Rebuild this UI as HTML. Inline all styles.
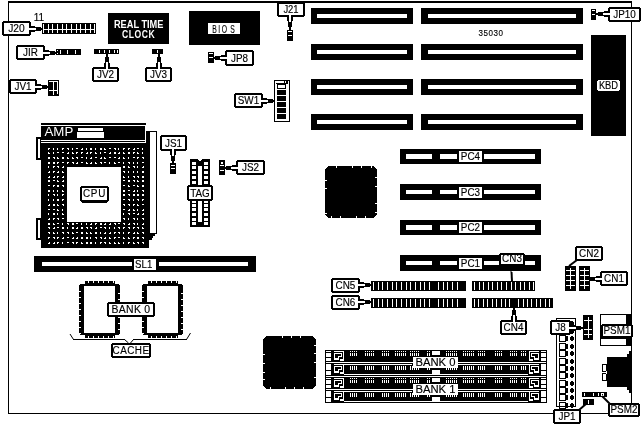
<!DOCTYPE html>
<html><head><meta charset="utf-8"><style>
html,body{margin:0;padding:0;background:#fff;}
svg{display:block;will-change:transform;}
text{font-family:"Liberation Sans",sans-serif;}
</style></head><body>
<svg width="644" height="427" viewBox="0 0 644 427" shape-rendering="crispEdges">
<rect x="8" y="1" width="624" height="2" fill="#000"/>
<rect x="8" y="1" width="1" height="413" fill="#000"/>
<rect x="631" y="1" width="1" height="413" fill="#000"/>
<rect x="8" y="413" width="624" height="1" fill="#000"/>
<rect x="311" y="8" width="102" height="16" fill="#000"/>
<rect x="317" y="14" width="90" height="4" fill="#fff"/>
<rect x="421" y="8" width="162" height="16" fill="#000"/>
<rect x="428" y="14" width="148" height="4" fill="#fff"/>
<rect x="311" y="44" width="102" height="16" fill="#000"/>
<rect x="317" y="50" width="90" height="4" fill="#fff"/>
<rect x="421" y="44" width="162" height="16" fill="#000"/>
<rect x="428" y="50" width="148" height="4" fill="#fff"/>
<rect x="311" y="79" width="102" height="16" fill="#000"/>
<rect x="317" y="85" width="90" height="4" fill="#fff"/>
<rect x="421" y="79" width="162" height="16" fill="#000"/>
<rect x="428" y="85" width="148" height="4" fill="#fff"/>
<rect x="311" y="114" width="102" height="16" fill="#000"/>
<rect x="317" y="120" width="90" height="4" fill="#fff"/>
<rect x="421" y="114" width="162" height="16" fill="#000"/>
<rect x="428" y="120" width="148" height="4" fill="#fff"/>
<text x="491" y="36" font-size="9.8" text-anchor="middle" fill="#000" font-weight="normal" letter-spacing="0.7" stroke="#000" stroke-width="0.15" transform="translate(491,36) scale(0.82,1) translate(-491,-36)">35030</text>
<rect x="108" y="13" width="61" height="31" fill="#000"/>
<text x="138.7" y="27.6" font-size="10.5" text-anchor="middle" fill="#fff" font-weight="bold" letter-spacing="0" transform="translate(138.7,27.6) scale(0.88,1) translate(-138.7,-27.6)">REAL TIME</text>
<text x="138.6" y="37.7" font-size="10.5" text-anchor="middle" fill="#fff" font-weight="bold" letter-spacing="0.6" transform="translate(138.6,37.7) scale(0.82,1) translate(-138.6,-37.7)">CLOCK</text>
<rect x="189" y="11" width="71" height="34" fill="#000"/>
<rect x="208" y="23" width="32" height="11" fill="#fff"/>
<text x="214.6" y="32.9" font-size="11" text-anchor="middle" fill="#000" font-weight="normal" letter-spacing="0" stroke="#000" stroke-width="0.15" transform="translate(214.6,32.9) scale(0.62,1) translate(-214.6,-32.9)">B</text>
<text x="219.2" y="32.9" font-size="11" text-anchor="middle" fill="#000" font-weight="normal" letter-spacing="0" stroke="#000" stroke-width="0.15" transform="translate(219.2,32.9) scale(0.62,1) translate(-219.2,-32.9)">I</text>
<text x="224.4" y="32.9" font-size="11" text-anchor="middle" fill="#000" font-weight="normal" letter-spacing="0" stroke="#000" stroke-width="0.15" transform="translate(224.4,32.9) scale(0.62,1) translate(-224.4,-32.9)">O</text>
<text x="232.5" y="32.9" font-size="11" text-anchor="middle" fill="#000" font-weight="normal" letter-spacing="0" stroke="#000" stroke-width="0.15" transform="translate(232.5,32.9) scale(0.62,1) translate(-232.5,-32.9)">S</text>
<rect x="591" y="35" width="35" height="101" fill="#000"/>
<rect x="597" y="80" width="23" height="11" fill="#fff"/>
<rect x="597" y="80" width="1" height="1" fill="#000"/>
<rect x="619" y="80" width="1" height="1" fill="#000"/>
<rect x="597" y="90" width="1" height="1" fill="#000"/>
<rect x="619" y="90" width="1" height="1" fill="#000"/>
<text x="608.5" y="89.5" font-size="11" text-anchor="middle" fill="#000" font-weight="normal" letter-spacing="0" stroke="#000" stroke-width="0.15" transform="translate(608.5,89.5) scale(0.85,1) translate(-608.5,-89.5)">KBD</text>
<rect x="42" y="23" width="54" height="11" fill="#000"/>
<rect x="43" y="29" width="52" height="1" fill="#fff"/>
<rect x="43" y="24" width="1" height="9" fill="#fff"/>
<rect x="48" y="24" width="1" height="9" fill="#fff"/>
<rect x="52" y="24" width="1" height="9" fill="#fff"/>
<rect x="57" y="24" width="1" height="9" fill="#fff"/>
<rect x="62" y="24" width="1" height="9" fill="#fff"/>
<rect x="66" y="24" width="1" height="9" fill="#fff"/>
<rect x="71" y="24" width="1" height="9" fill="#fff"/>
<rect x="76" y="24" width="1" height="9" fill="#fff"/>
<rect x="80" y="24" width="1" height="9" fill="#fff"/>
<rect x="85" y="24" width="1" height="9" fill="#fff"/>
<rect x="90" y="24" width="1" height="9" fill="#fff"/>
<rect x="94" y="24" width="1" height="9" fill="#fff"/>
<rect x="45" y="30" width="1" height="2" fill="#000"/>
<text x="39" y="21" font-size="10" text-anchor="middle" fill="#000" font-weight="normal" letter-spacing="0" stroke="#000" stroke-width="0.15">11</text>
<rect x="3" y="21" width="27" height="15" fill="#000"/>
<rect x="2" y="22" width="29" height="13" fill="#000"/>
<rect x="4" y="23" width="25" height="11" fill="#fff"/>
<text x="16.5" y="32.5" font-size="11" text-anchor="middle" fill="#000" font-weight="normal" letter-spacing="0" stroke="#000" stroke-width="0.15" transform="translate(16.5,32.5) scale(0.93,1) translate(-16.5,-32.5)">J20</text>
<rect x="29" y="26" width="6" height="6" fill="#000"/>
<rect x="29" y="27" width="12" height="4" fill="#000"/>
<rect x="35" y="28" width="8" height="2" fill="#000"/>
<rect x="29" y="28" width="7" height="2" fill="#fff"/>
<rect x="56" y="49" width="25" height="6" fill="#000"/>
<rect x="57" y="50" width="1" height="4" fill="#fff"/>
<rect x="57" y="51" width="1" height="2" fill="#000"/>
<rect x="60" y="50" width="1" height="4" fill="#fff"/>
<rect x="67" y="50" width="1" height="4" fill="#fff"/>
<rect x="75" y="50" width="1" height="4" fill="#fff"/>
<rect x="17" y="45" width="27" height="15" fill="#000"/>
<rect x="16" y="46" width="29" height="13" fill="#000"/>
<rect x="18" y="47" width="25" height="11" fill="#fff"/>
<text x="30.5" y="56.5" font-size="11" text-anchor="middle" fill="#000" font-weight="normal" letter-spacing="0" stroke="#000" stroke-width="0.15" transform="translate(30.5,56.5) scale(0.9,1) translate(-30.5,-56.5)">JIR</text>
<rect x="43" y="50" width="6" height="6" fill="#000"/>
<rect x="43" y="51" width="12" height="4" fill="#000"/>
<rect x="49" y="52" width="8" height="2" fill="#000"/>
<rect x="43" y="52" width="7" height="2" fill="#fff"/>
<rect x="94" y="49" width="25" height="5" fill="#000"/>
<rect x="99" y="50" width="1" height="3" fill="#fff"/>
<rect x="104" y="50" width="1" height="3" fill="#fff"/>
<rect x="109" y="50" width="1" height="3" fill="#fff"/>
<rect x="114" y="50" width="1" height="3" fill="#fff"/>
<rect x="117" y="50" width="1" height="3" fill="#fff"/>
<rect x="93" y="67" width="25" height="15" fill="#000"/>
<rect x="92" y="68" width="27" height="13" fill="#000"/>
<rect x="94" y="69" width="23" height="11" fill="#fff"/>
<text x="105.5" y="78.5" font-size="11" text-anchor="middle" fill="#000" font-weight="normal" letter-spacing="0" stroke="#000" stroke-width="0.15" transform="translate(105.5,78.5) scale(0.9,1) translate(-105.5,-78.5)">JV2</text>
<rect x="104" y="63" width="6" height="6" fill="#000"/>
<rect x="105" y="57" width="4" height="12" fill="#000"/>
<rect x="106" y="55" width="2" height="8" fill="#000"/>
<rect x="106" y="62" width="2" height="7" fill="#fff"/>
<rect x="106" y="54" width="2" height="1" fill="#000"/>
<rect x="152" y="49" width="11" height="5" fill="#000"/>
<rect x="157" y="50" width="1" height="3" fill="#fff"/>
<rect x="146" y="67" width="25" height="15" fill="#000"/>
<rect x="145" y="68" width="27" height="13" fill="#000"/>
<rect x="147" y="69" width="23" height="11" fill="#fff"/>
<text x="158.5" y="78.5" font-size="11" text-anchor="middle" fill="#000" font-weight="normal" letter-spacing="0" stroke="#000" stroke-width="0.15" transform="translate(158.5,78.5) scale(0.9,1) translate(-158.5,-78.5)">JV3</text>
<rect x="156" y="63" width="6" height="6" fill="#000"/>
<rect x="157" y="57" width="4" height="12" fill="#000"/>
<rect x="158" y="55" width="2" height="8" fill="#000"/>
<rect x="158" y="62" width="2" height="7" fill="#fff"/>
<rect x="158" y="54" width="2" height="1" fill="#000"/>
<rect x="48" y="80" width="11" height="16" fill="#000"/>
<rect x="49" y="81" width="9" height="1" fill="#fff"/>
<rect x="53" y="81" width="1" height="14" fill="#fff"/>
<rect x="57" y="81" width="1" height="13" fill="#fff"/>
<rect x="49" y="90" width="8" height="1" fill="#fff"/>
<rect x="10" y="79" width="26" height="15" fill="#000"/>
<rect x="9" y="80" width="28" height="13" fill="#000"/>
<rect x="11" y="81" width="24" height="11" fill="#fff"/>
<text x="23.0" y="90.5" font-size="11" text-anchor="middle" fill="#000" font-weight="normal" letter-spacing="0" stroke="#000" stroke-width="0.15" transform="translate(23.0,90.5) scale(0.9,1) translate(-23.0,-90.5)">JV1</text>
<rect x="35" y="84" width="6" height="6" fill="#000"/>
<rect x="35" y="85" width="12" height="4" fill="#000"/>
<rect x="41" y="86" width="8" height="2" fill="#000"/>
<rect x="35" y="86" width="7" height="2" fill="#fff"/>
<rect x="208" y="52" width="6" height="11" fill="#000"/>
<rect x="209" y="53" width="4" height="1" fill="#fff"/>
<rect x="209" y="57" width="4" height="1" fill="#fff"/>
<rect x="226" y="50" width="27" height="16" fill="#000"/>
<rect x="225" y="51" width="29" height="14" fill="#000"/>
<rect x="227" y="52" width="25" height="12" fill="#fff"/>
<text x="239.5" y="62.5" font-size="11" text-anchor="middle" fill="#000" font-weight="normal" letter-spacing="0" stroke="#000" stroke-width="0.15" transform="translate(239.5,62.5) scale(0.9,1) translate(-239.5,-62.5)">JP8</text>
<rect x="221" y="55" width="6" height="6" fill="#000"/>
<rect x="215" y="56" width="12" height="4" fill="#000"/>
<rect x="213" y="57" width="8" height="2" fill="#000"/>
<rect x="220" y="57" width="7" height="2" fill="#fff"/>
<rect x="287" y="30" width="6" height="11" fill="#000"/>
<rect x="288" y="31" width="4" height="1" fill="#fff"/>
<rect x="288" y="35" width="4" height="1" fill="#fff"/>
<rect x="278" y="2" width="26" height="15" fill="#000"/>
<rect x="277" y="3" width="28" height="13" fill="#000"/>
<rect x="279" y="4" width="24" height="11" fill="#fff"/>
<text x="291.0" y="12.8" font-size="10.5" text-anchor="middle" fill="#000" font-weight="normal" letter-spacing="0" stroke="#000" stroke-width="0.15" transform="translate(291.0,12.8) scale(0.9,1) translate(-291.0,-12.8)">J21</text>
<rect x="287" y="15" width="6" height="6" fill="#000"/>
<rect x="288" y="15" width="4" height="12" fill="#000"/>
<rect x="289" y="21" width="2" height="8" fill="#000"/>
<rect x="289" y="15" width="2" height="7" fill="#fff"/>
<rect x="289" y="29" width="2" height="1" fill="#000"/>
<rect x="277" y="1" width="28" height="2" fill="#000"/>
<rect x="591" y="9" width="5" height="11" fill="#000"/>
<rect x="592" y="10" width="3" height="1" fill="#fff"/>
<rect x="592" y="14" width="3" height="1" fill="#fff"/>
<rect x="609" y="7" width="31" height="15" fill="#000"/>
<rect x="608" y="8" width="33" height="13" fill="#000"/>
<rect x="610" y="9" width="29" height="11" fill="#fff"/>
<text x="624.5" y="18.5" font-size="11" text-anchor="middle" fill="#000" font-weight="normal" letter-spacing="0" stroke="#000" stroke-width="0.15" transform="translate(624.5,18.5) scale(0.9,1) translate(-624.5,-18.5)">JP10</text>
<rect x="604" y="11" width="6" height="6" fill="#000"/>
<rect x="598" y="12" width="12" height="4" fill="#000"/>
<rect x="596" y="13" width="8" height="2" fill="#000"/>
<rect x="603" y="13" width="7" height="2" fill="#fff"/>
<rect x="274" y="80" width="16" height="42" fill="#000"/>
<rect x="275" y="81" width="14" height="40" fill="#fff"/>
<rect x="276" y="83" width="12" height="1" fill="#000"/>
<rect x="277" y="84" width="9" height="5" fill="#000"/>
<rect x="278" y="85" width="7" height="3" fill="#fff"/>
<rect x="277" y="90" width="9" height="5" fill="#000"/>
<rect x="277" y="96" width="9" height="5" fill="#000"/>
<rect x="277" y="102" width="9" height="5" fill="#000"/>
<rect x="277" y="108" width="9" height="5" fill="#000"/>
<rect x="277" y="114" width="9" height="5" fill="#000"/>
<rect x="284" y="81" width="1" height="3" fill="#000"/>
<rect x="286" y="81" width="2" height="2" fill="#000"/>
<rect x="235" y="93" width="27" height="15" fill="#000"/>
<rect x="234" y="94" width="29" height="13" fill="#000"/>
<rect x="236" y="95" width="25" height="11" fill="#fff"/>
<text x="248.5" y="104.5" font-size="11" text-anchor="middle" fill="#000" font-weight="normal" letter-spacing="0" stroke="#000" stroke-width="0.15" transform="translate(248.5,104.5) scale(0.9,1) translate(-248.5,-104.5)">SW1</text>
<rect x="261" y="98" width="6" height="6" fill="#000"/>
<rect x="261" y="99" width="12" height="4" fill="#000"/>
<rect x="267" y="100" width="8" height="2" fill="#000"/>
<rect x="261" y="100" width="7" height="2" fill="#fff"/>
<rect x="41" y="123" width="105" height="2" fill="#000"/>
<rect x="41" y="126" width="104" height="14" fill="#000"/>
<text x="44.5" y="135.7" font-size="12.8" text-anchor="start" fill="#fff" font-weight="normal" letter-spacing="0" transform="translate(44.5,135.7) scale(1.04,1) translate(-44.5,-135.7)">AMP</text>
<rect x="78" y="128" width="25" height="3" fill="#fff"/>
<rect x="77" y="132" width="27" height="6" fill="#fff"/>
<rect x="41" y="141" width="104" height="1" fill="#000"/>
<rect x="41" y="143" width="108" height="105" fill="#000"/>
<rect x="48" y="148" width="1" height="1" fill="#fff"/>
<rect x="49" y="148" width="1" height="1" fill="#fff"/>
<rect x="48" y="149" width="1" height="1" fill="#fff"/>
<rect x="53" y="148" width="1" height="1" fill="#fff"/>
<rect x="53" y="149" width="1" height="1" fill="#fff"/>
<rect x="57" y="148" width="1" height="1" fill="#fff"/>
<rect x="57" y="149" width="1" height="1" fill="#fff"/>
<rect x="62" y="148" width="1" height="1" fill="#fff"/>
<rect x="63" y="148" width="1" height="1" fill="#fff"/>
<rect x="62" y="149" width="1" height="1" fill="#fff"/>
<rect x="67" y="148" width="1" height="1" fill="#fff"/>
<rect x="68" y="148" width="1" height="1" fill="#fff"/>
<rect x="68" y="149" width="1" height="1" fill="#fff"/>
<rect x="72" y="148" width="1" height="1" fill="#fff"/>
<rect x="72" y="149" width="1" height="1" fill="#fff"/>
<rect x="76" y="148" width="1" height="1" fill="#fff"/>
<rect x="77" y="148" width="1" height="1" fill="#fff"/>
<rect x="82" y="148" width="1" height="1" fill="#fff"/>
<rect x="81" y="149" width="1" height="1" fill="#fff"/>
<rect x="82" y="149" width="1" height="1" fill="#fff"/>
<rect x="86" y="148" width="1" height="1" fill="#fff"/>
<rect x="86" y="149" width="1" height="1" fill="#fff"/>
<rect x="90" y="148" width="1" height="1" fill="#fff"/>
<rect x="91" y="148" width="1" height="1" fill="#fff"/>
<rect x="90" y="149" width="1" height="1" fill="#fff"/>
<rect x="91" y="149" width="1" height="1" fill="#fff"/>
<rect x="95" y="148" width="1" height="1" fill="#fff"/>
<rect x="95" y="149" width="1" height="1" fill="#fff"/>
<rect x="100" y="148" width="1" height="1" fill="#fff"/>
<rect x="101" y="148" width="1" height="1" fill="#fff"/>
<rect x="100" y="149" width="1" height="1" fill="#fff"/>
<rect x="101" y="149" width="1" height="1" fill="#fff"/>
<rect x="104" y="149" width="1" height="1" fill="#fff"/>
<rect x="105" y="149" width="1" height="1" fill="#fff"/>
<rect x="104" y="148" width="1" height="1" fill="#fff"/>
<rect x="109" y="148" width="1" height="1" fill="#fff"/>
<rect x="110" y="148" width="1" height="1" fill="#fff"/>
<rect x="114" y="148" width="1" height="1" fill="#fff"/>
<rect x="115" y="148" width="1" height="1" fill="#fff"/>
<rect x="115" y="149" width="1" height="1" fill="#fff"/>
<rect x="118" y="148" width="1" height="1" fill="#fff"/>
<rect x="118" y="149" width="1" height="1" fill="#fff"/>
<rect x="123" y="148" width="1" height="1" fill="#fff"/>
<rect x="124" y="148" width="1" height="1" fill="#fff"/>
<rect x="123" y="149" width="1" height="1" fill="#fff"/>
<rect x="128" y="148" width="1" height="1" fill="#fff"/>
<rect x="129" y="148" width="1" height="1" fill="#fff"/>
<rect x="128" y="149" width="1" height="1" fill="#fff"/>
<rect x="134" y="148" width="1" height="1" fill="#fff"/>
<rect x="133" y="149" width="1" height="1" fill="#fff"/>
<rect x="134" y="149" width="1" height="1" fill="#fff"/>
<rect x="137" y="148" width="1" height="1" fill="#fff"/>
<rect x="138" y="148" width="1" height="1" fill="#fff"/>
<rect x="142" y="148" width="1" height="1" fill="#fff"/>
<rect x="142" y="149" width="1" height="1" fill="#fff"/>
<rect x="48" y="153" width="1" height="1" fill="#fff"/>
<rect x="49" y="153" width="1" height="1" fill="#fff"/>
<rect x="48" y="152" width="1" height="1" fill="#fff"/>
<rect x="53" y="152" width="1" height="1" fill="#fff"/>
<rect x="53" y="153" width="1" height="1" fill="#fff"/>
<rect x="57" y="152" width="1" height="1" fill="#fff"/>
<rect x="58" y="152" width="1" height="1" fill="#fff"/>
<rect x="62" y="152" width="1" height="1" fill="#fff"/>
<rect x="63" y="152" width="1" height="1" fill="#fff"/>
<rect x="68" y="152" width="1" height="1" fill="#fff"/>
<rect x="67" y="153" width="1" height="1" fill="#fff"/>
<rect x="68" y="153" width="1" height="1" fill="#fff"/>
<rect x="72" y="153" width="1" height="1" fill="#fff"/>
<rect x="73" y="153" width="1" height="1" fill="#fff"/>
<rect x="72" y="152" width="1" height="1" fill="#fff"/>
<rect x="76" y="152" width="1" height="1" fill="#fff"/>
<rect x="77" y="152" width="1" height="1" fill="#fff"/>
<rect x="76" y="153" width="1" height="1" fill="#fff"/>
<rect x="81" y="152" width="1" height="1" fill="#fff"/>
<rect x="82" y="152" width="1" height="1" fill="#fff"/>
<rect x="81" y="153" width="1" height="1" fill="#fff"/>
<rect x="87" y="152" width="1" height="1" fill="#fff"/>
<rect x="86" y="153" width="1" height="1" fill="#fff"/>
<rect x="87" y="153" width="1" height="1" fill="#fff"/>
<rect x="90" y="152" width="1" height="1" fill="#fff"/>
<rect x="91" y="152" width="1" height="1" fill="#fff"/>
<rect x="90" y="153" width="1" height="1" fill="#fff"/>
<rect x="95" y="153" width="1" height="1" fill="#fff"/>
<rect x="96" y="153" width="1" height="1" fill="#fff"/>
<rect x="95" y="152" width="1" height="1" fill="#fff"/>
<rect x="100" y="152" width="1" height="1" fill="#fff"/>
<rect x="100" y="153" width="1" height="1" fill="#fff"/>
<rect x="104" y="152" width="1" height="1" fill="#fff"/>
<rect x="105" y="152" width="1" height="1" fill="#fff"/>
<rect x="110" y="152" width="1" height="1" fill="#fff"/>
<rect x="109" y="153" width="1" height="1" fill="#fff"/>
<rect x="110" y="153" width="1" height="1" fill="#fff"/>
<rect x="114" y="152" width="1" height="1" fill="#fff"/>
<rect x="115" y="152" width="1" height="1" fill="#fff"/>
<rect x="114" y="153" width="1" height="1" fill="#fff"/>
<rect x="115" y="153" width="1" height="1" fill="#fff"/>
<rect x="119" y="152" width="1" height="1" fill="#fff"/>
<rect x="118" y="153" width="1" height="1" fill="#fff"/>
<rect x="119" y="153" width="1" height="1" fill="#fff"/>
<rect x="123" y="153" width="1" height="1" fill="#fff"/>
<rect x="124" y="153" width="1" height="1" fill="#fff"/>
<rect x="123" y="152" width="1" height="1" fill="#fff"/>
<rect x="128" y="152" width="1" height="1" fill="#fff"/>
<rect x="129" y="152" width="1" height="1" fill="#fff"/>
<rect x="128" y="153" width="1" height="1" fill="#fff"/>
<rect x="129" y="153" width="1" height="1" fill="#fff"/>
<rect x="133" y="152" width="1" height="1" fill="#fff"/>
<rect x="134" y="152" width="1" height="1" fill="#fff"/>
<rect x="133" y="153" width="1" height="1" fill="#fff"/>
<rect x="137" y="153" width="1" height="1" fill="#fff"/>
<rect x="138" y="153" width="1" height="1" fill="#fff"/>
<rect x="137" y="152" width="1" height="1" fill="#fff"/>
<rect x="142" y="152" width="1" height="1" fill="#fff"/>
<rect x="142" y="153" width="1" height="1" fill="#fff"/>
<rect x="48" y="157" width="1" height="1" fill="#fff"/>
<rect x="49" y="157" width="1" height="1" fill="#fff"/>
<rect x="48" y="158" width="1" height="1" fill="#fff"/>
<rect x="49" y="158" width="1" height="1" fill="#fff"/>
<rect x="53" y="157" width="1" height="1" fill="#fff"/>
<rect x="54" y="157" width="1" height="1" fill="#fff"/>
<rect x="54" y="158" width="1" height="1" fill="#fff"/>
<rect x="57" y="158" width="1" height="1" fill="#fff"/>
<rect x="58" y="158" width="1" height="1" fill="#fff"/>
<rect x="57" y="157" width="1" height="1" fill="#fff"/>
<rect x="62" y="157" width="1" height="1" fill="#fff"/>
<rect x="63" y="157" width="1" height="1" fill="#fff"/>
<rect x="62" y="158" width="1" height="1" fill="#fff"/>
<rect x="63" y="158" width="1" height="1" fill="#fff"/>
<rect x="67" y="158" width="1" height="1" fill="#fff"/>
<rect x="68" y="158" width="1" height="1" fill="#fff"/>
<rect x="67" y="157" width="1" height="1" fill="#fff"/>
<rect x="72" y="158" width="1" height="1" fill="#fff"/>
<rect x="73" y="158" width="1" height="1" fill="#fff"/>
<rect x="72" y="157" width="1" height="1" fill="#fff"/>
<rect x="76" y="157" width="1" height="1" fill="#fff"/>
<rect x="77" y="157" width="1" height="1" fill="#fff"/>
<rect x="77" y="158" width="1" height="1" fill="#fff"/>
<rect x="81" y="157" width="1" height="1" fill="#fff"/>
<rect x="82" y="157" width="1" height="1" fill="#fff"/>
<rect x="86" y="157" width="1" height="1" fill="#fff"/>
<rect x="86" y="158" width="1" height="1" fill="#fff"/>
<rect x="91" y="157" width="1" height="1" fill="#fff"/>
<rect x="90" y="158" width="1" height="1" fill="#fff"/>
<rect x="91" y="158" width="1" height="1" fill="#fff"/>
<rect x="95" y="157" width="1" height="1" fill="#fff"/>
<rect x="96" y="157" width="1" height="1" fill="#fff"/>
<rect x="101" y="157" width="1" height="1" fill="#fff"/>
<rect x="100" y="158" width="1" height="1" fill="#fff"/>
<rect x="101" y="158" width="1" height="1" fill="#fff"/>
<rect x="104" y="158" width="1" height="1" fill="#fff"/>
<rect x="105" y="158" width="1" height="1" fill="#fff"/>
<rect x="104" y="157" width="1" height="1" fill="#fff"/>
<rect x="109" y="157" width="1" height="1" fill="#fff"/>
<rect x="110" y="157" width="1" height="1" fill="#fff"/>
<rect x="114" y="157" width="1" height="1" fill="#fff"/>
<rect x="115" y="157" width="1" height="1" fill="#fff"/>
<rect x="119" y="157" width="1" height="1" fill="#fff"/>
<rect x="118" y="158" width="1" height="1" fill="#fff"/>
<rect x="119" y="158" width="1" height="1" fill="#fff"/>
<rect x="123" y="158" width="1" height="1" fill="#fff"/>
<rect x="124" y="158" width="1" height="1" fill="#fff"/>
<rect x="123" y="157" width="1" height="1" fill="#fff"/>
<rect x="128" y="157" width="1" height="1" fill="#fff"/>
<rect x="128" y="158" width="1" height="1" fill="#fff"/>
<rect x="133" y="157" width="1" height="1" fill="#fff"/>
<rect x="134" y="157" width="1" height="1" fill="#fff"/>
<rect x="137" y="157" width="1" height="1" fill="#fff"/>
<rect x="138" y="157" width="1" height="1" fill="#fff"/>
<rect x="137" y="158" width="1" height="1" fill="#fff"/>
<rect x="142" y="157" width="1" height="1" fill="#fff"/>
<rect x="143" y="157" width="1" height="1" fill="#fff"/>
<rect x="143" y="158" width="1" height="1" fill="#fff"/>
<rect x="48" y="162" width="1" height="1" fill="#fff"/>
<rect x="49" y="162" width="1" height="1" fill="#fff"/>
<rect x="48" y="163" width="1" height="1" fill="#fff"/>
<rect x="49" y="163" width="1" height="1" fill="#fff"/>
<rect x="53" y="162" width="1" height="1" fill="#fff"/>
<rect x="54" y="162" width="1" height="1" fill="#fff"/>
<rect x="53" y="163" width="1" height="1" fill="#fff"/>
<rect x="54" y="163" width="1" height="1" fill="#fff"/>
<rect x="57" y="162" width="1" height="1" fill="#fff"/>
<rect x="58" y="162" width="1" height="1" fill="#fff"/>
<rect x="57" y="163" width="1" height="1" fill="#fff"/>
<rect x="62" y="162" width="1" height="1" fill="#fff"/>
<rect x="63" y="162" width="1" height="1" fill="#fff"/>
<rect x="67" y="162" width="1" height="1" fill="#fff"/>
<rect x="68" y="162" width="1" height="1" fill="#fff"/>
<rect x="67" y="163" width="1" height="1" fill="#fff"/>
<rect x="72" y="162" width="1" height="1" fill="#fff"/>
<rect x="73" y="162" width="1" height="1" fill="#fff"/>
<rect x="73" y="163" width="1" height="1" fill="#fff"/>
<rect x="77" y="162" width="1" height="1" fill="#fff"/>
<rect x="76" y="163" width="1" height="1" fill="#fff"/>
<rect x="77" y="163" width="1" height="1" fill="#fff"/>
<rect x="81" y="162" width="1" height="1" fill="#fff"/>
<rect x="82" y="162" width="1" height="1" fill="#fff"/>
<rect x="86" y="163" width="1" height="1" fill="#fff"/>
<rect x="87" y="163" width="1" height="1" fill="#fff"/>
<rect x="86" y="162" width="1" height="1" fill="#fff"/>
<rect x="91" y="162" width="1" height="1" fill="#fff"/>
<rect x="90" y="163" width="1" height="1" fill="#fff"/>
<rect x="91" y="163" width="1" height="1" fill="#fff"/>
<rect x="95" y="163" width="1" height="1" fill="#fff"/>
<rect x="96" y="163" width="1" height="1" fill="#fff"/>
<rect x="95" y="162" width="1" height="1" fill="#fff"/>
<rect x="100" y="162" width="1" height="1" fill="#fff"/>
<rect x="101" y="162" width="1" height="1" fill="#fff"/>
<rect x="101" y="163" width="1" height="1" fill="#fff"/>
<rect x="104" y="162" width="1" height="1" fill="#fff"/>
<rect x="105" y="162" width="1" height="1" fill="#fff"/>
<rect x="109" y="162" width="1" height="1" fill="#fff"/>
<rect x="109" y="163" width="1" height="1" fill="#fff"/>
<rect x="114" y="163" width="1" height="1" fill="#fff"/>
<rect x="115" y="163" width="1" height="1" fill="#fff"/>
<rect x="114" y="162" width="1" height="1" fill="#fff"/>
<rect x="118" y="162" width="1" height="1" fill="#fff"/>
<rect x="119" y="162" width="1" height="1" fill="#fff"/>
<rect x="123" y="162" width="1" height="1" fill="#fff"/>
<rect x="123" y="163" width="1" height="1" fill="#fff"/>
<rect x="128" y="162" width="1" height="1" fill="#fff"/>
<rect x="129" y="162" width="1" height="1" fill="#fff"/>
<rect x="129" y="163" width="1" height="1" fill="#fff"/>
<rect x="133" y="162" width="1" height="1" fill="#fff"/>
<rect x="133" y="163" width="1" height="1" fill="#fff"/>
<rect x="137" y="162" width="1" height="1" fill="#fff"/>
<rect x="137" y="163" width="1" height="1" fill="#fff"/>
<rect x="142" y="162" width="1" height="1" fill="#fff"/>
<rect x="143" y="162" width="1" height="1" fill="#fff"/>
<rect x="48" y="166" width="1" height="1" fill="#fff"/>
<rect x="48" y="167" width="1" height="1" fill="#fff"/>
<rect x="53" y="166" width="1" height="1" fill="#fff"/>
<rect x="54" y="166" width="1" height="1" fill="#fff"/>
<rect x="53" y="167" width="1" height="1" fill="#fff"/>
<rect x="57" y="166" width="1" height="1" fill="#fff"/>
<rect x="58" y="166" width="1" height="1" fill="#fff"/>
<rect x="58" y="167" width="1" height="1" fill="#fff"/>
<rect x="63" y="166" width="1" height="1" fill="#fff"/>
<rect x="62" y="167" width="1" height="1" fill="#fff"/>
<rect x="63" y="167" width="1" height="1" fill="#fff"/>
<rect x="123" y="166" width="1" height="1" fill="#fff"/>
<rect x="124" y="166" width="1" height="1" fill="#fff"/>
<rect x="123" y="167" width="1" height="1" fill="#fff"/>
<rect x="124" y="167" width="1" height="1" fill="#fff"/>
<rect x="128" y="167" width="1" height="1" fill="#fff"/>
<rect x="129" y="167" width="1" height="1" fill="#fff"/>
<rect x="128" y="166" width="1" height="1" fill="#fff"/>
<rect x="133" y="166" width="1" height="1" fill="#fff"/>
<rect x="134" y="166" width="1" height="1" fill="#fff"/>
<rect x="134" y="167" width="1" height="1" fill="#fff"/>
<rect x="137" y="166" width="1" height="1" fill="#fff"/>
<rect x="137" y="167" width="1" height="1" fill="#fff"/>
<rect x="143" y="166" width="1" height="1" fill="#fff"/>
<rect x="142" y="167" width="1" height="1" fill="#fff"/>
<rect x="143" y="167" width="1" height="1" fill="#fff"/>
<rect x="49" y="171" width="1" height="1" fill="#fff"/>
<rect x="48" y="172" width="1" height="1" fill="#fff"/>
<rect x="49" y="172" width="1" height="1" fill="#fff"/>
<rect x="53" y="171" width="1" height="1" fill="#fff"/>
<rect x="54" y="171" width="1" height="1" fill="#fff"/>
<rect x="53" y="172" width="1" height="1" fill="#fff"/>
<rect x="58" y="171" width="1" height="1" fill="#fff"/>
<rect x="57" y="172" width="1" height="1" fill="#fff"/>
<rect x="58" y="172" width="1" height="1" fill="#fff"/>
<rect x="62" y="172" width="1" height="1" fill="#fff"/>
<rect x="63" y="172" width="1" height="1" fill="#fff"/>
<rect x="62" y="171" width="1" height="1" fill="#fff"/>
<rect x="123" y="171" width="1" height="1" fill="#fff"/>
<rect x="124" y="171" width="1" height="1" fill="#fff"/>
<rect x="124" y="172" width="1" height="1" fill="#fff"/>
<rect x="128" y="171" width="1" height="1" fill="#fff"/>
<rect x="128" y="172" width="1" height="1" fill="#fff"/>
<rect x="133" y="171" width="1" height="1" fill="#fff"/>
<rect x="133" y="172" width="1" height="1" fill="#fff"/>
<rect x="137" y="171" width="1" height="1" fill="#fff"/>
<rect x="137" y="172" width="1" height="1" fill="#fff"/>
<rect x="142" y="171" width="1" height="1" fill="#fff"/>
<rect x="143" y="171" width="1" height="1" fill="#fff"/>
<rect x="142" y="172" width="1" height="1" fill="#fff"/>
<rect x="143" y="172" width="1" height="1" fill="#fff"/>
<rect x="49" y="176" width="1" height="1" fill="#fff"/>
<rect x="48" y="177" width="1" height="1" fill="#fff"/>
<rect x="49" y="177" width="1" height="1" fill="#fff"/>
<rect x="54" y="176" width="1" height="1" fill="#fff"/>
<rect x="53" y="177" width="1" height="1" fill="#fff"/>
<rect x="54" y="177" width="1" height="1" fill="#fff"/>
<rect x="57" y="176" width="1" height="1" fill="#fff"/>
<rect x="58" y="176" width="1" height="1" fill="#fff"/>
<rect x="57" y="177" width="1" height="1" fill="#fff"/>
<rect x="63" y="176" width="1" height="1" fill="#fff"/>
<rect x="62" y="177" width="1" height="1" fill="#fff"/>
<rect x="63" y="177" width="1" height="1" fill="#fff"/>
<rect x="123" y="177" width="1" height="1" fill="#fff"/>
<rect x="124" y="177" width="1" height="1" fill="#fff"/>
<rect x="123" y="176" width="1" height="1" fill="#fff"/>
<rect x="128" y="176" width="1" height="1" fill="#fff"/>
<rect x="128" y="177" width="1" height="1" fill="#fff"/>
<rect x="133" y="176" width="1" height="1" fill="#fff"/>
<rect x="134" y="176" width="1" height="1" fill="#fff"/>
<rect x="134" y="177" width="1" height="1" fill="#fff"/>
<rect x="137" y="176" width="1" height="1" fill="#fff"/>
<rect x="138" y="176" width="1" height="1" fill="#fff"/>
<rect x="138" y="177" width="1" height="1" fill="#fff"/>
<rect x="142" y="176" width="1" height="1" fill="#fff"/>
<rect x="143" y="176" width="1" height="1" fill="#fff"/>
<rect x="142" y="177" width="1" height="1" fill="#fff"/>
<rect x="143" y="177" width="1" height="1" fill="#fff"/>
<rect x="48" y="180" width="1" height="1" fill="#fff"/>
<rect x="49" y="180" width="1" height="1" fill="#fff"/>
<rect x="48" y="181" width="1" height="1" fill="#fff"/>
<rect x="49" y="181" width="1" height="1" fill="#fff"/>
<rect x="53" y="180" width="1" height="1" fill="#fff"/>
<rect x="54" y="180" width="1" height="1" fill="#fff"/>
<rect x="57" y="181" width="1" height="1" fill="#fff"/>
<rect x="58" y="181" width="1" height="1" fill="#fff"/>
<rect x="57" y="180" width="1" height="1" fill="#fff"/>
<rect x="63" y="180" width="1" height="1" fill="#fff"/>
<rect x="62" y="181" width="1" height="1" fill="#fff"/>
<rect x="63" y="181" width="1" height="1" fill="#fff"/>
<rect x="123" y="180" width="1" height="1" fill="#fff"/>
<rect x="124" y="180" width="1" height="1" fill="#fff"/>
<rect x="128" y="180" width="1" height="1" fill="#fff"/>
<rect x="129" y="180" width="1" height="1" fill="#fff"/>
<rect x="128" y="181" width="1" height="1" fill="#fff"/>
<rect x="129" y="181" width="1" height="1" fill="#fff"/>
<rect x="133" y="180" width="1" height="1" fill="#fff"/>
<rect x="134" y="180" width="1" height="1" fill="#fff"/>
<rect x="134" y="181" width="1" height="1" fill="#fff"/>
<rect x="137" y="181" width="1" height="1" fill="#fff"/>
<rect x="138" y="181" width="1" height="1" fill="#fff"/>
<rect x="137" y="180" width="1" height="1" fill="#fff"/>
<rect x="142" y="180" width="1" height="1" fill="#fff"/>
<rect x="143" y="180" width="1" height="1" fill="#fff"/>
<rect x="142" y="181" width="1" height="1" fill="#fff"/>
<rect x="143" y="181" width="1" height="1" fill="#fff"/>
<rect x="48" y="185" width="1" height="1" fill="#fff"/>
<rect x="49" y="185" width="1" height="1" fill="#fff"/>
<rect x="53" y="185" width="1" height="1" fill="#fff"/>
<rect x="54" y="185" width="1" height="1" fill="#fff"/>
<rect x="53" y="186" width="1" height="1" fill="#fff"/>
<rect x="57" y="185" width="1" height="1" fill="#fff"/>
<rect x="58" y="185" width="1" height="1" fill="#fff"/>
<rect x="57" y="186" width="1" height="1" fill="#fff"/>
<rect x="58" y="186" width="1" height="1" fill="#fff"/>
<rect x="62" y="185" width="1" height="1" fill="#fff"/>
<rect x="63" y="185" width="1" height="1" fill="#fff"/>
<rect x="63" y="186" width="1" height="1" fill="#fff"/>
<rect x="123" y="185" width="1" height="1" fill="#fff"/>
<rect x="124" y="185" width="1" height="1" fill="#fff"/>
<rect x="128" y="186" width="1" height="1" fill="#fff"/>
<rect x="129" y="186" width="1" height="1" fill="#fff"/>
<rect x="128" y="185" width="1" height="1" fill="#fff"/>
<rect x="133" y="185" width="1" height="1" fill="#fff"/>
<rect x="134" y="185" width="1" height="1" fill="#fff"/>
<rect x="137" y="186" width="1" height="1" fill="#fff"/>
<rect x="138" y="186" width="1" height="1" fill="#fff"/>
<rect x="137" y="185" width="1" height="1" fill="#fff"/>
<rect x="142" y="185" width="1" height="1" fill="#fff"/>
<rect x="143" y="185" width="1" height="1" fill="#fff"/>
<rect x="142" y="186" width="1" height="1" fill="#fff"/>
<rect x="143" y="186" width="1" height="1" fill="#fff"/>
<rect x="48" y="190" width="1" height="1" fill="#fff"/>
<rect x="49" y="190" width="1" height="1" fill="#fff"/>
<rect x="48" y="191" width="1" height="1" fill="#fff"/>
<rect x="49" y="191" width="1" height="1" fill="#fff"/>
<rect x="53" y="190" width="1" height="1" fill="#fff"/>
<rect x="53" y="191" width="1" height="1" fill="#fff"/>
<rect x="57" y="190" width="1" height="1" fill="#fff"/>
<rect x="57" y="191" width="1" height="1" fill="#fff"/>
<rect x="62" y="191" width="1" height="1" fill="#fff"/>
<rect x="63" y="191" width="1" height="1" fill="#fff"/>
<rect x="62" y="190" width="1" height="1" fill="#fff"/>
<rect x="123" y="190" width="1" height="1" fill="#fff"/>
<rect x="124" y="190" width="1" height="1" fill="#fff"/>
<rect x="123" y="191" width="1" height="1" fill="#fff"/>
<rect x="124" y="191" width="1" height="1" fill="#fff"/>
<rect x="128" y="190" width="1" height="1" fill="#fff"/>
<rect x="129" y="190" width="1" height="1" fill="#fff"/>
<rect x="134" y="190" width="1" height="1" fill="#fff"/>
<rect x="133" y="191" width="1" height="1" fill="#fff"/>
<rect x="134" y="191" width="1" height="1" fill="#fff"/>
<rect x="137" y="190" width="1" height="1" fill="#fff"/>
<rect x="137" y="191" width="1" height="1" fill="#fff"/>
<rect x="142" y="190" width="1" height="1" fill="#fff"/>
<rect x="143" y="190" width="1" height="1" fill="#fff"/>
<rect x="143" y="191" width="1" height="1" fill="#fff"/>
<rect x="48" y="194" width="1" height="1" fill="#fff"/>
<rect x="48" y="195" width="1" height="1" fill="#fff"/>
<rect x="53" y="194" width="1" height="1" fill="#fff"/>
<rect x="54" y="194" width="1" height="1" fill="#fff"/>
<rect x="54" y="195" width="1" height="1" fill="#fff"/>
<rect x="57" y="194" width="1" height="1" fill="#fff"/>
<rect x="57" y="195" width="1" height="1" fill="#fff"/>
<rect x="62" y="194" width="1" height="1" fill="#fff"/>
<rect x="63" y="194" width="1" height="1" fill="#fff"/>
<rect x="62" y="195" width="1" height="1" fill="#fff"/>
<rect x="123" y="194" width="1" height="1" fill="#fff"/>
<rect x="124" y="194" width="1" height="1" fill="#fff"/>
<rect x="123" y="195" width="1" height="1" fill="#fff"/>
<rect x="124" y="195" width="1" height="1" fill="#fff"/>
<rect x="128" y="194" width="1" height="1" fill="#fff"/>
<rect x="129" y="194" width="1" height="1" fill="#fff"/>
<rect x="129" y="195" width="1" height="1" fill="#fff"/>
<rect x="133" y="194" width="1" height="1" fill="#fff"/>
<rect x="134" y="194" width="1" height="1" fill="#fff"/>
<rect x="133" y="195" width="1" height="1" fill="#fff"/>
<rect x="134" y="195" width="1" height="1" fill="#fff"/>
<rect x="137" y="194" width="1" height="1" fill="#fff"/>
<rect x="138" y="194" width="1" height="1" fill="#fff"/>
<rect x="137" y="195" width="1" height="1" fill="#fff"/>
<rect x="138" y="195" width="1" height="1" fill="#fff"/>
<rect x="142" y="194" width="1" height="1" fill="#fff"/>
<rect x="143" y="194" width="1" height="1" fill="#fff"/>
<rect x="142" y="195" width="1" height="1" fill="#fff"/>
<rect x="143" y="195" width="1" height="1" fill="#fff"/>
<rect x="48" y="199" width="1" height="1" fill="#fff"/>
<rect x="48" y="200" width="1" height="1" fill="#fff"/>
<rect x="53" y="199" width="1" height="1" fill="#fff"/>
<rect x="53" y="200" width="1" height="1" fill="#fff"/>
<rect x="57" y="199" width="1" height="1" fill="#fff"/>
<rect x="58" y="199" width="1" height="1" fill="#fff"/>
<rect x="57" y="200" width="1" height="1" fill="#fff"/>
<rect x="58" y="200" width="1" height="1" fill="#fff"/>
<rect x="62" y="199" width="1" height="1" fill="#fff"/>
<rect x="63" y="199" width="1" height="1" fill="#fff"/>
<rect x="62" y="200" width="1" height="1" fill="#fff"/>
<rect x="123" y="199" width="1" height="1" fill="#fff"/>
<rect x="124" y="199" width="1" height="1" fill="#fff"/>
<rect x="128" y="199" width="1" height="1" fill="#fff"/>
<rect x="129" y="199" width="1" height="1" fill="#fff"/>
<rect x="129" y="200" width="1" height="1" fill="#fff"/>
<rect x="133" y="199" width="1" height="1" fill="#fff"/>
<rect x="133" y="200" width="1" height="1" fill="#fff"/>
<rect x="137" y="199" width="1" height="1" fill="#fff"/>
<rect x="138" y="199" width="1" height="1" fill="#fff"/>
<rect x="138" y="200" width="1" height="1" fill="#fff"/>
<rect x="142" y="199" width="1" height="1" fill="#fff"/>
<rect x="143" y="199" width="1" height="1" fill="#fff"/>
<rect x="142" y="200" width="1" height="1" fill="#fff"/>
<rect x="49" y="204" width="1" height="1" fill="#fff"/>
<rect x="48" y="205" width="1" height="1" fill="#fff"/>
<rect x="49" y="205" width="1" height="1" fill="#fff"/>
<rect x="53" y="204" width="1" height="1" fill="#fff"/>
<rect x="54" y="204" width="1" height="1" fill="#fff"/>
<rect x="53" y="205" width="1" height="1" fill="#fff"/>
<rect x="54" y="205" width="1" height="1" fill="#fff"/>
<rect x="57" y="205" width="1" height="1" fill="#fff"/>
<rect x="58" y="205" width="1" height="1" fill="#fff"/>
<rect x="57" y="204" width="1" height="1" fill="#fff"/>
<rect x="62" y="204" width="1" height="1" fill="#fff"/>
<rect x="63" y="204" width="1" height="1" fill="#fff"/>
<rect x="63" y="205" width="1" height="1" fill="#fff"/>
<rect x="123" y="204" width="1" height="1" fill="#fff"/>
<rect x="124" y="204" width="1" height="1" fill="#fff"/>
<rect x="124" y="205" width="1" height="1" fill="#fff"/>
<rect x="128" y="204" width="1" height="1" fill="#fff"/>
<rect x="129" y="204" width="1" height="1" fill="#fff"/>
<rect x="129" y="205" width="1" height="1" fill="#fff"/>
<rect x="133" y="204" width="1" height="1" fill="#fff"/>
<rect x="134" y="204" width="1" height="1" fill="#fff"/>
<rect x="133" y="205" width="1" height="1" fill="#fff"/>
<rect x="137" y="205" width="1" height="1" fill="#fff"/>
<rect x="138" y="205" width="1" height="1" fill="#fff"/>
<rect x="137" y="204" width="1" height="1" fill="#fff"/>
<rect x="142" y="204" width="1" height="1" fill="#fff"/>
<rect x="143" y="204" width="1" height="1" fill="#fff"/>
<rect x="48" y="209" width="1" height="1" fill="#fff"/>
<rect x="49" y="209" width="1" height="1" fill="#fff"/>
<rect x="53" y="209" width="1" height="1" fill="#fff"/>
<rect x="54" y="209" width="1" height="1" fill="#fff"/>
<rect x="57" y="210" width="1" height="1" fill="#fff"/>
<rect x="58" y="210" width="1" height="1" fill="#fff"/>
<rect x="57" y="209" width="1" height="1" fill="#fff"/>
<rect x="62" y="209" width="1" height="1" fill="#fff"/>
<rect x="62" y="210" width="1" height="1" fill="#fff"/>
<rect x="123" y="209" width="1" height="1" fill="#fff"/>
<rect x="124" y="209" width="1" height="1" fill="#fff"/>
<rect x="129" y="209" width="1" height="1" fill="#fff"/>
<rect x="128" y="210" width="1" height="1" fill="#fff"/>
<rect x="129" y="210" width="1" height="1" fill="#fff"/>
<rect x="133" y="210" width="1" height="1" fill="#fff"/>
<rect x="134" y="210" width="1" height="1" fill="#fff"/>
<rect x="133" y="209" width="1" height="1" fill="#fff"/>
<rect x="137" y="209" width="1" height="1" fill="#fff"/>
<rect x="137" y="210" width="1" height="1" fill="#fff"/>
<rect x="143" y="209" width="1" height="1" fill="#fff"/>
<rect x="142" y="210" width="1" height="1" fill="#fff"/>
<rect x="143" y="210" width="1" height="1" fill="#fff"/>
<rect x="48" y="213" width="1" height="1" fill="#fff"/>
<rect x="48" y="214" width="1" height="1" fill="#fff"/>
<rect x="53" y="213" width="1" height="1" fill="#fff"/>
<rect x="54" y="213" width="1" height="1" fill="#fff"/>
<rect x="53" y="214" width="1" height="1" fill="#fff"/>
<rect x="54" y="214" width="1" height="1" fill="#fff"/>
<rect x="57" y="213" width="1" height="1" fill="#fff"/>
<rect x="57" y="214" width="1" height="1" fill="#fff"/>
<rect x="62" y="214" width="1" height="1" fill="#fff"/>
<rect x="63" y="214" width="1" height="1" fill="#fff"/>
<rect x="62" y="213" width="1" height="1" fill="#fff"/>
<rect x="123" y="213" width="1" height="1" fill="#fff"/>
<rect x="123" y="214" width="1" height="1" fill="#fff"/>
<rect x="128" y="213" width="1" height="1" fill="#fff"/>
<rect x="129" y="213" width="1" height="1" fill="#fff"/>
<rect x="129" y="214" width="1" height="1" fill="#fff"/>
<rect x="133" y="213" width="1" height="1" fill="#fff"/>
<rect x="134" y="213" width="1" height="1" fill="#fff"/>
<rect x="138" y="213" width="1" height="1" fill="#fff"/>
<rect x="137" y="214" width="1" height="1" fill="#fff"/>
<rect x="138" y="214" width="1" height="1" fill="#fff"/>
<rect x="143" y="213" width="1" height="1" fill="#fff"/>
<rect x="142" y="214" width="1" height="1" fill="#fff"/>
<rect x="143" y="214" width="1" height="1" fill="#fff"/>
<rect x="49" y="218" width="1" height="1" fill="#fff"/>
<rect x="48" y="219" width="1" height="1" fill="#fff"/>
<rect x="49" y="219" width="1" height="1" fill="#fff"/>
<rect x="53" y="218" width="1" height="1" fill="#fff"/>
<rect x="54" y="218" width="1" height="1" fill="#fff"/>
<rect x="53" y="219" width="1" height="1" fill="#fff"/>
<rect x="57" y="218" width="1" height="1" fill="#fff"/>
<rect x="58" y="218" width="1" height="1" fill="#fff"/>
<rect x="58" y="219" width="1" height="1" fill="#fff"/>
<rect x="62" y="218" width="1" height="1" fill="#fff"/>
<rect x="63" y="218" width="1" height="1" fill="#fff"/>
<rect x="123" y="218" width="1" height="1" fill="#fff"/>
<rect x="124" y="218" width="1" height="1" fill="#fff"/>
<rect x="124" y="219" width="1" height="1" fill="#fff"/>
<rect x="128" y="218" width="1" height="1" fill="#fff"/>
<rect x="128" y="219" width="1" height="1" fill="#fff"/>
<rect x="133" y="218" width="1" height="1" fill="#fff"/>
<rect x="134" y="218" width="1" height="1" fill="#fff"/>
<rect x="134" y="219" width="1" height="1" fill="#fff"/>
<rect x="137" y="218" width="1" height="1" fill="#fff"/>
<rect x="137" y="219" width="1" height="1" fill="#fff"/>
<rect x="142" y="218" width="1" height="1" fill="#fff"/>
<rect x="143" y="218" width="1" height="1" fill="#fff"/>
<rect x="143" y="219" width="1" height="1" fill="#fff"/>
<rect x="48" y="223" width="1" height="1" fill="#fff"/>
<rect x="49" y="223" width="1" height="1" fill="#fff"/>
<rect x="48" y="224" width="1" height="1" fill="#fff"/>
<rect x="49" y="224" width="1" height="1" fill="#fff"/>
<rect x="53" y="224" width="1" height="1" fill="#fff"/>
<rect x="54" y="224" width="1" height="1" fill="#fff"/>
<rect x="53" y="223" width="1" height="1" fill="#fff"/>
<rect x="57" y="223" width="1" height="1" fill="#fff"/>
<rect x="58" y="223" width="1" height="1" fill="#fff"/>
<rect x="62" y="223" width="1" height="1" fill="#fff"/>
<rect x="62" y="224" width="1" height="1" fill="#fff"/>
<rect x="67" y="223" width="1" height="1" fill="#fff"/>
<rect x="68" y="223" width="1" height="1" fill="#fff"/>
<rect x="68" y="224" width="1" height="1" fill="#fff"/>
<rect x="72" y="223" width="1" height="1" fill="#fff"/>
<rect x="73" y="223" width="1" height="1" fill="#fff"/>
<rect x="72" y="224" width="1" height="1" fill="#fff"/>
<rect x="73" y="224" width="1" height="1" fill="#fff"/>
<rect x="76" y="223" width="1" height="1" fill="#fff"/>
<rect x="77" y="223" width="1" height="1" fill="#fff"/>
<rect x="81" y="223" width="1" height="1" fill="#fff"/>
<rect x="81" y="224" width="1" height="1" fill="#fff"/>
<rect x="86" y="223" width="1" height="1" fill="#fff"/>
<rect x="86" y="224" width="1" height="1" fill="#fff"/>
<rect x="91" y="223" width="1" height="1" fill="#fff"/>
<rect x="90" y="224" width="1" height="1" fill="#fff"/>
<rect x="91" y="224" width="1" height="1" fill="#fff"/>
<rect x="95" y="223" width="1" height="1" fill="#fff"/>
<rect x="96" y="223" width="1" height="1" fill="#fff"/>
<rect x="95" y="224" width="1" height="1" fill="#fff"/>
<rect x="100" y="223" width="1" height="1" fill="#fff"/>
<rect x="101" y="223" width="1" height="1" fill="#fff"/>
<rect x="100" y="224" width="1" height="1" fill="#fff"/>
<rect x="101" y="224" width="1" height="1" fill="#fff"/>
<rect x="105" y="223" width="1" height="1" fill="#fff"/>
<rect x="104" y="224" width="1" height="1" fill="#fff"/>
<rect x="105" y="224" width="1" height="1" fill="#fff"/>
<rect x="110" y="223" width="1" height="1" fill="#fff"/>
<rect x="109" y="224" width="1" height="1" fill="#fff"/>
<rect x="110" y="224" width="1" height="1" fill="#fff"/>
<rect x="114" y="223" width="1" height="1" fill="#fff"/>
<rect x="115" y="223" width="1" height="1" fill="#fff"/>
<rect x="115" y="224" width="1" height="1" fill="#fff"/>
<rect x="118" y="223" width="1" height="1" fill="#fff"/>
<rect x="119" y="223" width="1" height="1" fill="#fff"/>
<rect x="123" y="223" width="1" height="1" fill="#fff"/>
<rect x="124" y="223" width="1" height="1" fill="#fff"/>
<rect x="124" y="224" width="1" height="1" fill="#fff"/>
<rect x="129" y="223" width="1" height="1" fill="#fff"/>
<rect x="128" y="224" width="1" height="1" fill="#fff"/>
<rect x="129" y="224" width="1" height="1" fill="#fff"/>
<rect x="133" y="223" width="1" height="1" fill="#fff"/>
<rect x="134" y="223" width="1" height="1" fill="#fff"/>
<rect x="134" y="224" width="1" height="1" fill="#fff"/>
<rect x="137" y="223" width="1" height="1" fill="#fff"/>
<rect x="137" y="224" width="1" height="1" fill="#fff"/>
<rect x="143" y="223" width="1" height="1" fill="#fff"/>
<rect x="142" y="224" width="1" height="1" fill="#fff"/>
<rect x="143" y="224" width="1" height="1" fill="#fff"/>
<rect x="48" y="227" width="1" height="1" fill="#fff"/>
<rect x="49" y="227" width="1" height="1" fill="#fff"/>
<rect x="49" y="228" width="1" height="1" fill="#fff"/>
<rect x="54" y="227" width="1" height="1" fill="#fff"/>
<rect x="53" y="228" width="1" height="1" fill="#fff"/>
<rect x="54" y="228" width="1" height="1" fill="#fff"/>
<rect x="57" y="227" width="1" height="1" fill="#fff"/>
<rect x="58" y="227" width="1" height="1" fill="#fff"/>
<rect x="62" y="227" width="1" height="1" fill="#fff"/>
<rect x="63" y="227" width="1" height="1" fill="#fff"/>
<rect x="62" y="228" width="1" height="1" fill="#fff"/>
<rect x="63" y="228" width="1" height="1" fill="#fff"/>
<rect x="67" y="227" width="1" height="1" fill="#fff"/>
<rect x="67" y="228" width="1" height="1" fill="#fff"/>
<rect x="72" y="227" width="1" height="1" fill="#fff"/>
<rect x="73" y="227" width="1" height="1" fill="#fff"/>
<rect x="72" y="228" width="1" height="1" fill="#fff"/>
<rect x="73" y="228" width="1" height="1" fill="#fff"/>
<rect x="77" y="227" width="1" height="1" fill="#fff"/>
<rect x="76" y="228" width="1" height="1" fill="#fff"/>
<rect x="77" y="228" width="1" height="1" fill="#fff"/>
<rect x="81" y="227" width="1" height="1" fill="#fff"/>
<rect x="82" y="227" width="1" height="1" fill="#fff"/>
<rect x="81" y="228" width="1" height="1" fill="#fff"/>
<rect x="82" y="228" width="1" height="1" fill="#fff"/>
<rect x="86" y="227" width="1" height="1" fill="#fff"/>
<rect x="87" y="227" width="1" height="1" fill="#fff"/>
<rect x="87" y="228" width="1" height="1" fill="#fff"/>
<rect x="90" y="227" width="1" height="1" fill="#fff"/>
<rect x="91" y="227" width="1" height="1" fill="#fff"/>
<rect x="91" y="228" width="1" height="1" fill="#fff"/>
<rect x="96" y="227" width="1" height="1" fill="#fff"/>
<rect x="95" y="228" width="1" height="1" fill="#fff"/>
<rect x="96" y="228" width="1" height="1" fill="#fff"/>
<rect x="100" y="227" width="1" height="1" fill="#fff"/>
<rect x="101" y="227" width="1" height="1" fill="#fff"/>
<rect x="104" y="227" width="1" height="1" fill="#fff"/>
<rect x="105" y="227" width="1" height="1" fill="#fff"/>
<rect x="105" y="228" width="1" height="1" fill="#fff"/>
<rect x="109" y="227" width="1" height="1" fill="#fff"/>
<rect x="109" y="228" width="1" height="1" fill="#fff"/>
<rect x="114" y="227" width="1" height="1" fill="#fff"/>
<rect x="114" y="228" width="1" height="1" fill="#fff"/>
<rect x="118" y="227" width="1" height="1" fill="#fff"/>
<rect x="119" y="227" width="1" height="1" fill="#fff"/>
<rect x="119" y="228" width="1" height="1" fill="#fff"/>
<rect x="123" y="227" width="1" height="1" fill="#fff"/>
<rect x="124" y="227" width="1" height="1" fill="#fff"/>
<rect x="123" y="228" width="1" height="1" fill="#fff"/>
<rect x="128" y="227" width="1" height="1" fill="#fff"/>
<rect x="129" y="227" width="1" height="1" fill="#fff"/>
<rect x="129" y="228" width="1" height="1" fill="#fff"/>
<rect x="133" y="227" width="1" height="1" fill="#fff"/>
<rect x="134" y="227" width="1" height="1" fill="#fff"/>
<rect x="133" y="228" width="1" height="1" fill="#fff"/>
<rect x="137" y="227" width="1" height="1" fill="#fff"/>
<rect x="138" y="227" width="1" height="1" fill="#fff"/>
<rect x="138" y="228" width="1" height="1" fill="#fff"/>
<rect x="142" y="228" width="1" height="1" fill="#fff"/>
<rect x="143" y="228" width="1" height="1" fill="#fff"/>
<rect x="142" y="227" width="1" height="1" fill="#fff"/>
<rect x="48" y="232" width="1" height="1" fill="#fff"/>
<rect x="49" y="232" width="1" height="1" fill="#fff"/>
<rect x="49" y="233" width="1" height="1" fill="#fff"/>
<rect x="53" y="233" width="1" height="1" fill="#fff"/>
<rect x="54" y="233" width="1" height="1" fill="#fff"/>
<rect x="53" y="232" width="1" height="1" fill="#fff"/>
<rect x="57" y="232" width="1" height="1" fill="#fff"/>
<rect x="57" y="233" width="1" height="1" fill="#fff"/>
<rect x="62" y="232" width="1" height="1" fill="#fff"/>
<rect x="63" y="232" width="1" height="1" fill="#fff"/>
<rect x="63" y="233" width="1" height="1" fill="#fff"/>
<rect x="67" y="232" width="1" height="1" fill="#fff"/>
<rect x="68" y="232" width="1" height="1" fill="#fff"/>
<rect x="68" y="233" width="1" height="1" fill="#fff"/>
<rect x="72" y="233" width="1" height="1" fill="#fff"/>
<rect x="73" y="233" width="1" height="1" fill="#fff"/>
<rect x="72" y="232" width="1" height="1" fill="#fff"/>
<rect x="76" y="232" width="1" height="1" fill="#fff"/>
<rect x="77" y="232" width="1" height="1" fill="#fff"/>
<rect x="81" y="232" width="1" height="1" fill="#fff"/>
<rect x="82" y="232" width="1" height="1" fill="#fff"/>
<rect x="81" y="233" width="1" height="1" fill="#fff"/>
<rect x="82" y="233" width="1" height="1" fill="#fff"/>
<rect x="86" y="233" width="1" height="1" fill="#fff"/>
<rect x="87" y="233" width="1" height="1" fill="#fff"/>
<rect x="86" y="232" width="1" height="1" fill="#fff"/>
<rect x="90" y="233" width="1" height="1" fill="#fff"/>
<rect x="91" y="233" width="1" height="1" fill="#fff"/>
<rect x="90" y="232" width="1" height="1" fill="#fff"/>
<rect x="95" y="232" width="1" height="1" fill="#fff"/>
<rect x="96" y="232" width="1" height="1" fill="#fff"/>
<rect x="95" y="233" width="1" height="1" fill="#fff"/>
<rect x="96" y="233" width="1" height="1" fill="#fff"/>
<rect x="100" y="232" width="1" height="1" fill="#fff"/>
<rect x="100" y="233" width="1" height="1" fill="#fff"/>
<rect x="105" y="232" width="1" height="1" fill="#fff"/>
<rect x="104" y="233" width="1" height="1" fill="#fff"/>
<rect x="105" y="233" width="1" height="1" fill="#fff"/>
<rect x="110" y="232" width="1" height="1" fill="#fff"/>
<rect x="109" y="233" width="1" height="1" fill="#fff"/>
<rect x="110" y="233" width="1" height="1" fill="#fff"/>
<rect x="114" y="232" width="1" height="1" fill="#fff"/>
<rect x="115" y="232" width="1" height="1" fill="#fff"/>
<rect x="114" y="233" width="1" height="1" fill="#fff"/>
<rect x="118" y="232" width="1" height="1" fill="#fff"/>
<rect x="119" y="232" width="1" height="1" fill="#fff"/>
<rect x="119" y="233" width="1" height="1" fill="#fff"/>
<rect x="123" y="232" width="1" height="1" fill="#fff"/>
<rect x="123" y="233" width="1" height="1" fill="#fff"/>
<rect x="128" y="232" width="1" height="1" fill="#fff"/>
<rect x="129" y="232" width="1" height="1" fill="#fff"/>
<rect x="128" y="233" width="1" height="1" fill="#fff"/>
<rect x="134" y="232" width="1" height="1" fill="#fff"/>
<rect x="133" y="233" width="1" height="1" fill="#fff"/>
<rect x="134" y="233" width="1" height="1" fill="#fff"/>
<rect x="137" y="233" width="1" height="1" fill="#fff"/>
<rect x="138" y="233" width="1" height="1" fill="#fff"/>
<rect x="137" y="232" width="1" height="1" fill="#fff"/>
<rect x="142" y="232" width="1" height="1" fill="#fff"/>
<rect x="143" y="232" width="1" height="1" fill="#fff"/>
<rect x="143" y="233" width="1" height="1" fill="#fff"/>
<rect x="48" y="237" width="1" height="1" fill="#fff"/>
<rect x="49" y="237" width="1" height="1" fill="#fff"/>
<rect x="48" y="238" width="1" height="1" fill="#fff"/>
<rect x="53" y="237" width="1" height="1" fill="#fff"/>
<rect x="54" y="237" width="1" height="1" fill="#fff"/>
<rect x="54" y="238" width="1" height="1" fill="#fff"/>
<rect x="57" y="237" width="1" height="1" fill="#fff"/>
<rect x="58" y="237" width="1" height="1" fill="#fff"/>
<rect x="57" y="238" width="1" height="1" fill="#fff"/>
<rect x="63" y="237" width="1" height="1" fill="#fff"/>
<rect x="62" y="238" width="1" height="1" fill="#fff"/>
<rect x="63" y="238" width="1" height="1" fill="#fff"/>
<rect x="67" y="237" width="1" height="1" fill="#fff"/>
<rect x="68" y="237" width="1" height="1" fill="#fff"/>
<rect x="73" y="237" width="1" height="1" fill="#fff"/>
<rect x="72" y="238" width="1" height="1" fill="#fff"/>
<rect x="73" y="238" width="1" height="1" fill="#fff"/>
<rect x="77" y="237" width="1" height="1" fill="#fff"/>
<rect x="76" y="238" width="1" height="1" fill="#fff"/>
<rect x="77" y="238" width="1" height="1" fill="#fff"/>
<rect x="81" y="237" width="1" height="1" fill="#fff"/>
<rect x="82" y="237" width="1" height="1" fill="#fff"/>
<rect x="81" y="238" width="1" height="1" fill="#fff"/>
<rect x="82" y="238" width="1" height="1" fill="#fff"/>
<rect x="86" y="237" width="1" height="1" fill="#fff"/>
<rect x="87" y="237" width="1" height="1" fill="#fff"/>
<rect x="86" y="238" width="1" height="1" fill="#fff"/>
<rect x="87" y="238" width="1" height="1" fill="#fff"/>
<rect x="90" y="237" width="1" height="1" fill="#fff"/>
<rect x="90" y="238" width="1" height="1" fill="#fff"/>
<rect x="95" y="237" width="1" height="1" fill="#fff"/>
<rect x="96" y="237" width="1" height="1" fill="#fff"/>
<rect x="96" y="238" width="1" height="1" fill="#fff"/>
<rect x="100" y="237" width="1" height="1" fill="#fff"/>
<rect x="101" y="237" width="1" height="1" fill="#fff"/>
<rect x="101" y="238" width="1" height="1" fill="#fff"/>
<rect x="105" y="237" width="1" height="1" fill="#fff"/>
<rect x="104" y="238" width="1" height="1" fill="#fff"/>
<rect x="105" y="238" width="1" height="1" fill="#fff"/>
<rect x="109" y="238" width="1" height="1" fill="#fff"/>
<rect x="110" y="238" width="1" height="1" fill="#fff"/>
<rect x="109" y="237" width="1" height="1" fill="#fff"/>
<rect x="114" y="237" width="1" height="1" fill="#fff"/>
<rect x="115" y="237" width="1" height="1" fill="#fff"/>
<rect x="114" y="238" width="1" height="1" fill="#fff"/>
<rect x="118" y="237" width="1" height="1" fill="#fff"/>
<rect x="119" y="237" width="1" height="1" fill="#fff"/>
<rect x="123" y="238" width="1" height="1" fill="#fff"/>
<rect x="124" y="238" width="1" height="1" fill="#fff"/>
<rect x="123" y="237" width="1" height="1" fill="#fff"/>
<rect x="128" y="238" width="1" height="1" fill="#fff"/>
<rect x="129" y="238" width="1" height="1" fill="#fff"/>
<rect x="128" y="237" width="1" height="1" fill="#fff"/>
<rect x="133" y="237" width="1" height="1" fill="#fff"/>
<rect x="134" y="237" width="1" height="1" fill="#fff"/>
<rect x="133" y="238" width="1" height="1" fill="#fff"/>
<rect x="137" y="237" width="1" height="1" fill="#fff"/>
<rect x="138" y="237" width="1" height="1" fill="#fff"/>
<rect x="137" y="238" width="1" height="1" fill="#fff"/>
<rect x="138" y="238" width="1" height="1" fill="#fff"/>
<rect x="142" y="237" width="1" height="1" fill="#fff"/>
<rect x="143" y="237" width="1" height="1" fill="#fff"/>
<rect x="143" y="238" width="1" height="1" fill="#fff"/>
<rect x="49" y="242" width="1" height="1" fill="#fff"/>
<rect x="48" y="243" width="1" height="1" fill="#fff"/>
<rect x="49" y="243" width="1" height="1" fill="#fff"/>
<rect x="54" y="242" width="1" height="1" fill="#fff"/>
<rect x="53" y="243" width="1" height="1" fill="#fff"/>
<rect x="54" y="243" width="1" height="1" fill="#fff"/>
<rect x="57" y="242" width="1" height="1" fill="#fff"/>
<rect x="58" y="242" width="1" height="1" fill="#fff"/>
<rect x="57" y="243" width="1" height="1" fill="#fff"/>
<rect x="62" y="242" width="1" height="1" fill="#fff"/>
<rect x="62" y="243" width="1" height="1" fill="#fff"/>
<rect x="67" y="242" width="1" height="1" fill="#fff"/>
<rect x="68" y="242" width="1" height="1" fill="#fff"/>
<rect x="72" y="242" width="1" height="1" fill="#fff"/>
<rect x="73" y="242" width="1" height="1" fill="#fff"/>
<rect x="73" y="243" width="1" height="1" fill="#fff"/>
<rect x="76" y="242" width="1" height="1" fill="#fff"/>
<rect x="77" y="242" width="1" height="1" fill="#fff"/>
<rect x="76" y="243" width="1" height="1" fill="#fff"/>
<rect x="81" y="243" width="1" height="1" fill="#fff"/>
<rect x="82" y="243" width="1" height="1" fill="#fff"/>
<rect x="81" y="242" width="1" height="1" fill="#fff"/>
<rect x="86" y="242" width="1" height="1" fill="#fff"/>
<rect x="87" y="242" width="1" height="1" fill="#fff"/>
<rect x="86" y="243" width="1" height="1" fill="#fff"/>
<rect x="87" y="243" width="1" height="1" fill="#fff"/>
<rect x="90" y="242" width="1" height="1" fill="#fff"/>
<rect x="91" y="242" width="1" height="1" fill="#fff"/>
<rect x="90" y="243" width="1" height="1" fill="#fff"/>
<rect x="91" y="243" width="1" height="1" fill="#fff"/>
<rect x="95" y="242" width="1" height="1" fill="#fff"/>
<rect x="95" y="243" width="1" height="1" fill="#fff"/>
<rect x="100" y="242" width="1" height="1" fill="#fff"/>
<rect x="101" y="242" width="1" height="1" fill="#fff"/>
<rect x="100" y="243" width="1" height="1" fill="#fff"/>
<rect x="104" y="242" width="1" height="1" fill="#fff"/>
<rect x="105" y="242" width="1" height="1" fill="#fff"/>
<rect x="105" y="243" width="1" height="1" fill="#fff"/>
<rect x="109" y="243" width="1" height="1" fill="#fff"/>
<rect x="110" y="243" width="1" height="1" fill="#fff"/>
<rect x="109" y="242" width="1" height="1" fill="#fff"/>
<rect x="114" y="243" width="1" height="1" fill="#fff"/>
<rect x="115" y="243" width="1" height="1" fill="#fff"/>
<rect x="114" y="242" width="1" height="1" fill="#fff"/>
<rect x="118" y="243" width="1" height="1" fill="#fff"/>
<rect x="119" y="243" width="1" height="1" fill="#fff"/>
<rect x="118" y="242" width="1" height="1" fill="#fff"/>
<rect x="123" y="242" width="1" height="1" fill="#fff"/>
<rect x="123" y="243" width="1" height="1" fill="#fff"/>
<rect x="128" y="242" width="1" height="1" fill="#fff"/>
<rect x="129" y="242" width="1" height="1" fill="#fff"/>
<rect x="128" y="243" width="1" height="1" fill="#fff"/>
<rect x="133" y="243" width="1" height="1" fill="#fff"/>
<rect x="134" y="243" width="1" height="1" fill="#fff"/>
<rect x="133" y="242" width="1" height="1" fill="#fff"/>
<rect x="137" y="242" width="1" height="1" fill="#fff"/>
<rect x="138" y="242" width="1" height="1" fill="#fff"/>
<rect x="138" y="243" width="1" height="1" fill="#fff"/>
<rect x="142" y="242" width="1" height="1" fill="#fff"/>
<rect x="143" y="242" width="1" height="1" fill="#fff"/>
<rect x="143" y="243" width="1" height="1" fill="#fff"/>
<rect x="67" y="167" width="54" height="55" fill="#fff"/>
<rect x="146" y="131" width="11" height="103" fill="#000"/>
<rect x="150" y="132" width="6" height="101" fill="#fff"/>
<rect x="149" y="234" width="6" height="2" fill="#000"/>
<rect x="149" y="236" width="4" height="2" fill="#000"/>
<rect x="149" y="238" width="3" height="2" fill="#000"/>
<rect x="36" y="137" width="5" height="23" fill="#000"/>
<rect x="38" y="139" width="2" height="19" fill="#fff"/>
<rect x="36" y="218" width="5" height="22" fill="#000"/>
<rect x="38" y="220" width="2" height="18" fill="#fff"/>
<rect x="81" y="186" width="27" height="16" fill="#000"/>
<rect x="80" y="187" width="29" height="14" fill="#000"/>
<rect x="82" y="188" width="25" height="12" fill="#fff"/>
<text x="94.5" y="197" font-size="11" text-anchor="middle" fill="#000" font-weight="normal" letter-spacing="0.8" stroke="#000" stroke-width="0.15" transform="translate(94.5,197) scale(0.9,1) translate(-94.5,-197)">CPU</text>
<rect x="82" y="202" width="25" height="1" fill="#000"/>
<rect x="161" y="135" width="25" height="16" fill="#000"/>
<rect x="160" y="136" width="27" height="14" fill="#000"/>
<rect x="162" y="137" width="23" height="12" fill="#fff"/>
<text x="173.5" y="147.5" font-size="11" text-anchor="middle" fill="#000" font-weight="normal" letter-spacing="0" stroke="#000" stroke-width="0.15" transform="translate(173.5,147.5) scale(0.9,1) translate(-173.5,-147.5)">JS1</text>
<rect x="170" y="163" width="6" height="11" fill="#000"/>
<rect x="171" y="165" width="4" height="1" fill="#fff"/>
<rect x="171" y="168" width="4" height="1" fill="#fff"/>
<rect x="170" y="149" width="6" height="6" fill="#000"/>
<rect x="171" y="149" width="4" height="12" fill="#000"/>
<rect x="172" y="155" width="2" height="8" fill="#000"/>
<rect x="172" y="149" width="2" height="7" fill="#fff"/>
<rect x="190" y="159" width="20" height="68" fill="#000"/>
<rect x="198" y="166" width="4" height="56" fill="#fff"/>
<rect x="198" y="159" width="4" height="1" fill="#fff"/>
<rect x="199" y="160" width="2" height="1" fill="#fff"/>
<rect x="192" y="162" width="4" height="3" fill="#fff"/>
<rect x="204" y="162" width="4" height="3" fill="#fff"/>
<rect x="192" y="166" width="4" height="3" fill="#fff"/>
<rect x="204" y="166" width="4" height="3" fill="#fff"/>
<rect x="192" y="171" width="4" height="3" fill="#fff"/>
<rect x="204" y="171" width="4" height="3" fill="#fff"/>
<rect x="192" y="176" width="4" height="3" fill="#fff"/>
<rect x="204" y="176" width="4" height="3" fill="#fff"/>
<rect x="192" y="181" width="4" height="3" fill="#fff"/>
<rect x="204" y="181" width="4" height="3" fill="#fff"/>
<rect x="192" y="201" width="4" height="2" fill="#fff"/>
<rect x="204" y="201" width="4" height="2" fill="#fff"/>
<rect x="192" y="204" width="4" height="3" fill="#fff"/>
<rect x="204" y="204" width="4" height="3" fill="#fff"/>
<rect x="192" y="208" width="4" height="3" fill="#fff"/>
<rect x="204" y="208" width="4" height="3" fill="#fff"/>
<rect x="192" y="213" width="4" height="3" fill="#fff"/>
<rect x="204" y="213" width="4" height="3" fill="#fff"/>
<rect x="192" y="218" width="4" height="3" fill="#fff"/>
<rect x="204" y="218" width="4" height="3" fill="#fff"/>
<rect x="192" y="222" width="4" height="3" fill="#fff"/>
<rect x="204" y="222" width="4" height="3" fill="#fff"/>
<rect x="188" y="185" width="24" height="16" fill="#000"/>
<rect x="187" y="186" width="26" height="14" fill="#000"/>
<rect x="189" y="187" width="22" height="12" fill="#fff"/>
<text x="200.0" y="197.5" font-size="11" text-anchor="middle" fill="#000" font-weight="normal" letter-spacing="0" stroke="#000" stroke-width="0.15" transform="translate(200.0,197.5) scale(0.9,1) translate(-200.0,-197.5)">TAG</text>
<rect x="219" y="160" width="6" height="15" fill="#000"/>
<rect x="221" y="162" width="2" height="2" fill="#fff"/>
<rect x="220" y="165" width="4" height="1" fill="#fff"/>
<rect x="220" y="170" width="4" height="1" fill="#fff"/>
<rect x="237" y="160" width="27" height="15" fill="#000"/>
<rect x="236" y="161" width="29" height="13" fill="#000"/>
<rect x="238" y="162" width="25" height="11" fill="#fff"/>
<text x="250.5" y="171.5" font-size="11" text-anchor="middle" fill="#000" font-weight="normal" letter-spacing="0" stroke="#000" stroke-width="0.15" transform="translate(250.5,171.5) scale(0.9,1) translate(-250.5,-171.5)">JS2</text>
<rect x="232" y="165" width="6" height="6" fill="#000"/>
<rect x="226" y="166" width="12" height="4" fill="#000"/>
<rect x="224" y="167" width="8" height="2" fill="#000"/>
<rect x="231" y="167" width="7" height="2" fill="#fff"/>
<rect x="34" y="256" width="222" height="16" fill="#000"/>
<rect x="42" y="262" width="90" height="4" fill="#fff"/>
<rect x="159" y="262" width="89" height="4" fill="#fff"/>
<rect x="134" y="259" width="22" height="11" fill="#fff"/>
<text x="143.7" y="267.6" font-size="10.5" text-anchor="middle" fill="#000" font-weight="normal" letter-spacing="0" stroke="#000" stroke-width="0.15" transform="translate(143.7,267.6) scale(0.92,1) translate(-143.7,-267.6)">SL1</text>
<rect x="85" y="281" width="30" height="3" fill="#000"/>
<rect x="88" y="281" width="1" height="2" fill="#fff"/>
<rect x="93" y="281" width="1" height="2" fill="#fff"/>
<rect x="98" y="281" width="1" height="2" fill="#fff"/>
<rect x="103" y="281" width="1" height="2" fill="#fff"/>
<rect x="108" y="281" width="1" height="2" fill="#fff"/>
<rect x="113" y="281" width="1" height="2" fill="#fff"/>
<rect x="85" y="335" width="30" height="3" fill="#000"/>
<rect x="88" y="336" width="1" height="2" fill="#fff"/>
<rect x="93" y="336" width="1" height="2" fill="#fff"/>
<rect x="98" y="336" width="1" height="2" fill="#fff"/>
<rect x="103" y="336" width="1" height="2" fill="#fff"/>
<rect x="108" y="336" width="1" height="2" fill="#fff"/>
<rect x="113" y="336" width="1" height="2" fill="#fff"/>
<rect x="80" y="284" width="39" height="51" fill="#000"/>
<rect x="79" y="285" width="41" height="49" fill="#000"/>
<rect x="84" y="286" width="31" height="47" fill="#fff"/>
<rect x="79" y="291" width="2" height="1" fill="#fff"/>
<rect x="118" y="293" width="2" height="1" fill="#fff"/>
<rect x="79" y="297" width="2" height="1" fill="#fff"/>
<rect x="118" y="299" width="2" height="1" fill="#fff"/>
<rect x="79" y="303" width="2" height="1" fill="#fff"/>
<rect x="118" y="305" width="2" height="1" fill="#fff"/>
<rect x="79" y="309" width="2" height="1" fill="#fff"/>
<rect x="118" y="311" width="2" height="1" fill="#fff"/>
<rect x="79" y="315" width="2" height="1" fill="#fff"/>
<rect x="118" y="317" width="2" height="1" fill="#fff"/>
<rect x="79" y="321" width="2" height="1" fill="#fff"/>
<rect x="118" y="323" width="2" height="1" fill="#fff"/>
<rect x="79" y="327" width="2" height="1" fill="#fff"/>
<rect x="118" y="329" width="2" height="1" fill="#fff"/>
<rect x="79" y="333" width="2" height="1" fill="#fff"/>
<rect x="118" y="335" width="2" height="1" fill="#fff"/>
<rect x="148" y="281" width="30" height="3" fill="#000"/>
<rect x="151" y="281" width="1" height="2" fill="#fff"/>
<rect x="156" y="281" width="1" height="2" fill="#fff"/>
<rect x="161" y="281" width="1" height="2" fill="#fff"/>
<rect x="166" y="281" width="1" height="2" fill="#fff"/>
<rect x="171" y="281" width="1" height="2" fill="#fff"/>
<rect x="176" y="281" width="1" height="2" fill="#fff"/>
<rect x="148" y="335" width="30" height="3" fill="#000"/>
<rect x="151" y="336" width="1" height="2" fill="#fff"/>
<rect x="156" y="336" width="1" height="2" fill="#fff"/>
<rect x="161" y="336" width="1" height="2" fill="#fff"/>
<rect x="166" y="336" width="1" height="2" fill="#fff"/>
<rect x="171" y="336" width="1" height="2" fill="#fff"/>
<rect x="176" y="336" width="1" height="2" fill="#fff"/>
<rect x="143" y="284" width="39" height="51" fill="#000"/>
<rect x="142" y="285" width="41" height="49" fill="#000"/>
<rect x="147" y="286" width="31" height="47" fill="#fff"/>
<rect x="142" y="291" width="2" height="1" fill="#fff"/>
<rect x="181" y="293" width="2" height="1" fill="#fff"/>
<rect x="142" y="297" width="2" height="1" fill="#fff"/>
<rect x="181" y="299" width="2" height="1" fill="#fff"/>
<rect x="142" y="303" width="2" height="1" fill="#fff"/>
<rect x="181" y="305" width="2" height="1" fill="#fff"/>
<rect x="142" y="309" width="2" height="1" fill="#fff"/>
<rect x="181" y="311" width="2" height="1" fill="#fff"/>
<rect x="142" y="315" width="2" height="1" fill="#fff"/>
<rect x="181" y="317" width="2" height="1" fill="#fff"/>
<rect x="142" y="321" width="2" height="1" fill="#fff"/>
<rect x="181" y="323" width="2" height="1" fill="#fff"/>
<rect x="142" y="327" width="2" height="1" fill="#fff"/>
<rect x="181" y="329" width="2" height="1" fill="#fff"/>
<rect x="142" y="333" width="2" height="1" fill="#fff"/>
<rect x="181" y="335" width="2" height="1" fill="#fff"/>
<rect x="108" y="302" width="46" height="15" fill="#000"/>
<rect x="107" y="303" width="48" height="13" fill="#000"/>
<rect x="109" y="304" width="44" height="11" fill="#fff"/>
<text x="131.0" y="313.5" font-size="11" text-anchor="middle" fill="#000" font-weight="normal" letter-spacing="0.3" stroke="#000" stroke-width="0.15" transform="translate(131.0,313.5) scale(0.95,1) translate(-131.0,-313.5)">BANK 0</text>
<line x1="70" y1="334" x2="73.5" y2="339.5" stroke="#000" stroke-width="1" shape-rendering="geometricPrecision"/>
<rect x="73" y="339" width="52" height="1" fill="#000"/>
<line x1="124.5" y1="339.5" x2="128.5" y2="343" stroke="#000" stroke-width="1" shape-rendering="geometricPrecision"/>
<line x1="130.5" y1="343" x2="133.5" y2="339.5" stroke="#000" stroke-width="1" shape-rendering="geometricPrecision"/>
<rect x="133" y="339" width="54" height="1" fill="#000"/>
<line x1="186.5" y1="339.5" x2="190.5" y2="333" stroke="#000" stroke-width="1" shape-rendering="geometricPrecision"/>
<rect x="112" y="343" width="38" height="15" fill="#000"/>
<rect x="111" y="344" width="40" height="13" fill="#000"/>
<rect x="113" y="345" width="36" height="11" fill="#fff"/>
<text x="131.0" y="354.5" font-size="11" text-anchor="middle" fill="#000" font-weight="normal" letter-spacing="0.5" stroke="#000" stroke-width="0.15" transform="translate(131.0,354.5) scale(0.9,1) translate(-131.0,-354.5)">CACHE</text>
<rect x="328" y="166" width="46" height="52" fill="#000"/>
<rect x="327" y="167" width="48" height="50" fill="#000"/>
<rect x="325" y="169" width="52" height="46" fill="#000"/>
<rect x="326" y="168" width="50" height="48" fill="#000"/>
<rect x="336" y="166" width="1" height="2" fill="#fff"/>
<rect x="352" y="166" width="1" height="2" fill="#fff"/>
<rect x="361" y="166" width="1" height="2" fill="#fff"/>
<rect x="371" y="166" width="1" height="2" fill="#fff"/>
<rect x="331" y="216" width="1" height="2" fill="#fff"/>
<rect x="340" y="216" width="1" height="2" fill="#fff"/>
<rect x="356" y="216" width="1" height="2" fill="#fff"/>
<rect x="365" y="216" width="1" height="2" fill="#fff"/>
<rect x="325" y="180" width="2" height="1" fill="#fff"/>
<rect x="325" y="188" width="2" height="1" fill="#fff"/>
<rect x="325" y="213" width="2" height="1" fill="#fff"/>
<rect x="375" y="177" width="2" height="1" fill="#fff"/>
<rect x="375" y="186" width="2" height="1" fill="#fff"/>
<rect x="375" y="203" width="2" height="1" fill="#fff"/>
<rect x="375" y="212" width="2" height="1" fill="#fff"/>
<rect x="266" y="336" width="47" height="53" fill="#000"/>
<rect x="265" y="337" width="49" height="51" fill="#000"/>
<rect x="263" y="339" width="53" height="47" fill="#000"/>
<rect x="264" y="338" width="51" height="49" fill="#000"/>
<rect x="282" y="336" width="1" height="2" fill="#fff"/>
<rect x="291" y="336" width="1" height="2" fill="#fff"/>
<rect x="300" y="336" width="1" height="2" fill="#fff"/>
<rect x="270" y="387" width="1" height="2" fill="#fff"/>
<rect x="285" y="387" width="1" height="2" fill="#fff"/>
<rect x="294" y="387" width="1" height="2" fill="#fff"/>
<rect x="303" y="387" width="1" height="2" fill="#fff"/>
<rect x="263" y="354" width="2" height="1" fill="#fff"/>
<rect x="263" y="363" width="2" height="1" fill="#fff"/>
<rect x="263" y="372" width="2" height="1" fill="#fff"/>
<rect x="263" y="379" width="2" height="1" fill="#fff"/>
<rect x="314" y="345" width="2" height="1" fill="#fff"/>
<rect x="314" y="353" width="2" height="1" fill="#fff"/>
<rect x="314" y="362" width="2" height="1" fill="#fff"/>
<rect x="314" y="377" width="2" height="1" fill="#fff"/>
<rect x="400" y="149" width="141" height="15" fill="#000"/>
<rect x="406" y="154" width="26" height="5" fill="#fff"/>
<rect x="440" y="154" width="17" height="5" fill="#fff"/>
<rect x="484" y="154" width="51" height="5" fill="#fff"/>
<rect x="459" y="151" width="23" height="11" fill="#fff"/>
<text x="470.5" y="160.5" font-size="11" text-anchor="middle" fill="#000" font-weight="normal" letter-spacing="0" stroke="#000" stroke-width="0.15" transform="translate(470.5,160.5) scale(0.9,1) translate(-470.5,-160.5)">PC4</text>
<rect x="400" y="184" width="141" height="16" fill="#000"/>
<rect x="406" y="190" width="26" height="4" fill="#fff"/>
<rect x="440" y="190" width="17" height="4" fill="#fff"/>
<rect x="484" y="190" width="51" height="4" fill="#fff"/>
<rect x="459" y="187" width="23" height="11" fill="#fff"/>
<text x="470.5" y="196.5" font-size="11" text-anchor="middle" fill="#000" font-weight="normal" letter-spacing="0" stroke="#000" stroke-width="0.15" transform="translate(470.5,196.5) scale(0.9,1) translate(-470.5,-196.5)">PC3</text>
<rect x="400" y="220" width="141" height="15" fill="#000"/>
<rect x="406" y="225" width="26" height="5" fill="#fff"/>
<rect x="440" y="225" width="17" height="5" fill="#fff"/>
<rect x="484" y="225" width="51" height="5" fill="#fff"/>
<rect x="459" y="222" width="23" height="11" fill="#fff"/>
<text x="470.5" y="231.5" font-size="11" text-anchor="middle" fill="#000" font-weight="normal" letter-spacing="0" stroke="#000" stroke-width="0.15" transform="translate(470.5,231.5) scale(0.9,1) translate(-470.5,-231.5)">PC2</text>
<rect x="400" y="255" width="141" height="16" fill="#000"/>
<rect x="406" y="261" width="26" height="4" fill="#fff"/>
<rect x="440" y="261" width="17" height="4" fill="#fff"/>
<rect x="484" y="261" width="51" height="4" fill="#fff"/>
<rect x="459" y="258" width="23" height="11" fill="#fff"/>
<text x="470.5" y="267.5" font-size="11" text-anchor="middle" fill="#000" font-weight="normal" letter-spacing="0" stroke="#000" stroke-width="0.15" transform="translate(470.5,267.5) scale(0.9,1) translate(-470.5,-267.5)">PC1</text>
<rect x="500" y="253" width="24" height="13" fill="#000"/>
<rect x="499" y="254" width="26" height="11" fill="#000"/>
<rect x="501" y="255" width="22" height="9" fill="#fff"/>
<text x="512.0" y="262.5" font-size="11" text-anchor="middle" fill="#000" font-weight="normal" letter-spacing="0" stroke="#000" stroke-width="0.15" transform="translate(512.0,262.5) scale(0.9,1) translate(-512.0,-262.5)">CN3</text>
<line x1="511" y1="266" x2="511" y2="272" stroke="#000" stroke-width="1" shape-rendering="geometricPrecision"/>
<line x1="511.5" y1="272" x2="512" y2="281" stroke="#000" stroke-width="2" shape-rendering="geometricPrecision"/>
<rect x="371" y="281" width="95" height="10" fill="#000"/>
<rect x="373" y="282" width="1" height="8" fill="#fff"/>
<rect x="378" y="282" width="1" height="8" fill="#fff"/>
<rect x="382" y="282" width="1" height="8" fill="#fff"/>
<rect x="387" y="282" width="1" height="8" fill="#fff"/>
<rect x="392" y="282" width="1" height="8" fill="#fff"/>
<rect x="396" y="282" width="1" height="8" fill="#fff"/>
<rect x="401" y="282" width="1" height="8" fill="#fff"/>
<rect x="406" y="282" width="1" height="8" fill="#fff"/>
<rect x="410" y="282" width="1" height="8" fill="#fff"/>
<rect x="415" y="282" width="1" height="8" fill="#fff"/>
<rect x="420" y="282" width="1" height="8" fill="#fff"/>
<rect x="424" y="282" width="1" height="8" fill="#fff"/>
<rect x="429" y="282" width="1" height="8" fill="#fff"/>
<rect x="438" y="282" width="1" height="8" fill="#fff"/>
<rect x="443" y="282" width="1" height="8" fill="#fff"/>
<rect x="447" y="282" width="1" height="8" fill="#fff"/>
<rect x="452" y="282" width="1" height="8" fill="#fff"/>
<rect x="457" y="282" width="1" height="8" fill="#fff"/>
<rect x="371" y="298" width="95" height="10" fill="#000"/>
<rect x="373" y="299" width="1" height="8" fill="#fff"/>
<rect x="378" y="299" width="1" height="8" fill="#fff"/>
<rect x="382" y="299" width="1" height="8" fill="#fff"/>
<rect x="387" y="299" width="1" height="8" fill="#fff"/>
<rect x="392" y="299" width="1" height="8" fill="#fff"/>
<rect x="396" y="299" width="1" height="8" fill="#fff"/>
<rect x="401" y="299" width="1" height="8" fill="#fff"/>
<rect x="406" y="299" width="1" height="8" fill="#fff"/>
<rect x="410" y="299" width="1" height="8" fill="#fff"/>
<rect x="415" y="299" width="1" height="8" fill="#fff"/>
<rect x="420" y="299" width="1" height="8" fill="#fff"/>
<rect x="424" y="299" width="1" height="8" fill="#fff"/>
<rect x="429" y="299" width="1" height="8" fill="#fff"/>
<rect x="438" y="299" width="1" height="8" fill="#fff"/>
<rect x="443" y="299" width="1" height="8" fill="#fff"/>
<rect x="447" y="299" width="1" height="8" fill="#fff"/>
<rect x="452" y="299" width="1" height="8" fill="#fff"/>
<rect x="457" y="299" width="1" height="8" fill="#fff"/>
<rect x="472" y="281" width="63" height="10" fill="#000"/>
<rect x="474" y="282" width="1" height="8" fill="#fff"/>
<rect x="479" y="282" width="1" height="8" fill="#fff"/>
<rect x="483" y="282" width="1" height="8" fill="#fff"/>
<rect x="488" y="282" width="1" height="8" fill="#fff"/>
<rect x="492" y="282" width="1" height="8" fill="#fff"/>
<rect x="497" y="282" width="1" height="8" fill="#fff"/>
<rect x="501" y="282" width="1" height="8" fill="#fff"/>
<rect x="506" y="282" width="1" height="8" fill="#fff"/>
<rect x="511" y="282" width="1" height="8" fill="#fff"/>
<rect x="515" y="282" width="1" height="8" fill="#fff"/>
<rect x="520" y="282" width="1" height="8" fill="#fff"/>
<rect x="524" y="282" width="1" height="8" fill="#fff"/>
<rect x="529" y="282" width="1" height="8" fill="#fff"/>
<rect x="533" y="282" width="1" height="8" fill="#fff"/>
<rect x="472" y="298" width="81" height="10" fill="#000"/>
<rect x="474" y="299" width="1" height="8" fill="#fff"/>
<rect x="478" y="299" width="1" height="8" fill="#fff"/>
<rect x="483" y="299" width="1" height="8" fill="#fff"/>
<rect x="487" y="299" width="1" height="8" fill="#fff"/>
<rect x="492" y="299" width="1" height="8" fill="#fff"/>
<rect x="496" y="299" width="1" height="8" fill="#fff"/>
<rect x="501" y="299" width="1" height="8" fill="#fff"/>
<rect x="505" y="299" width="1" height="8" fill="#fff"/>
<rect x="509" y="299" width="1" height="8" fill="#fff"/>
<rect x="518" y="299" width="1" height="8" fill="#fff"/>
<rect x="523" y="299" width="1" height="8" fill="#fff"/>
<rect x="527" y="299" width="1" height="8" fill="#fff"/>
<rect x="531" y="299" width="1" height="8" fill="#fff"/>
<rect x="536" y="299" width="1" height="8" fill="#fff"/>
<rect x="540" y="299" width="1" height="8" fill="#fff"/>
<rect x="545" y="299" width="1" height="8" fill="#fff"/>
<rect x="549" y="299" width="1" height="8" fill="#fff"/>
<rect x="332" y="278" width="27" height="15" fill="#000"/>
<rect x="331" y="279" width="29" height="13" fill="#000"/>
<rect x="333" y="280" width="25" height="11" fill="#fff"/>
<text x="345.5" y="289.5" font-size="11" text-anchor="middle" fill="#000" font-weight="normal" letter-spacing="0" stroke="#000" stroke-width="0.15" transform="translate(345.5,289.5) scale(0.9,1) translate(-345.5,-289.5)">CN5</text>
<rect x="358" y="282" width="6" height="6" fill="#000"/>
<rect x="358" y="283" width="12" height="4" fill="#000"/>
<rect x="364" y="284" width="8" height="2" fill="#000"/>
<rect x="358" y="284" width="7" height="2" fill="#fff"/>
<rect x="332" y="295" width="27" height="15" fill="#000"/>
<rect x="331" y="296" width="29" height="13" fill="#000"/>
<rect x="333" y="297" width="25" height="11" fill="#fff"/>
<text x="345.5" y="306.5" font-size="11" text-anchor="middle" fill="#000" font-weight="normal" letter-spacing="0" stroke="#000" stroke-width="0.15" transform="translate(345.5,306.5) scale(0.9,1) translate(-345.5,-306.5)">CN6</text>
<rect x="358" y="299" width="6" height="6" fill="#000"/>
<rect x="358" y="300" width="12" height="4" fill="#000"/>
<rect x="364" y="301" width="8" height="2" fill="#000"/>
<rect x="358" y="301" width="7" height="2" fill="#fff"/>
<rect x="501" y="320" width="25" height="15" fill="#000"/>
<rect x="500" y="321" width="27" height="13" fill="#000"/>
<rect x="502" y="322" width="23" height="11" fill="#fff"/>
<text x="513.5" y="331.5" font-size="11" text-anchor="middle" fill="#000" font-weight="normal" letter-spacing="0" stroke="#000" stroke-width="0.15" transform="translate(513.5,331.5) scale(0.9,1) translate(-513.5,-331.5)">CN4</text>
<rect x="511" y="316" width="6" height="6" fill="#000"/>
<rect x="512" y="310" width="4" height="12" fill="#000"/>
<rect x="513" y="308" width="2" height="8" fill="#000"/>
<rect x="513" y="315" width="2" height="7" fill="#fff"/>
<rect x="565" y="266" width="11" height="25" fill="#000"/>
<rect x="570" y="268" width="1" height="21" fill="#fff"/>
<rect x="566" y="270" width="9" height="1" fill="#fff"/>
<rect x="566" y="275" width="9" height="1" fill="#fff"/>
<rect x="566" y="280" width="9" height="1" fill="#fff"/>
<rect x="566" y="285" width="9" height="1" fill="#fff"/>
<rect x="579" y="266" width="11" height="25" fill="#000"/>
<rect x="584" y="268" width="1" height="21" fill="#fff"/>
<rect x="580" y="270" width="9" height="1" fill="#fff"/>
<rect x="580" y="275" width="9" height="1" fill="#fff"/>
<rect x="580" y="280" width="9" height="1" fill="#fff"/>
<rect x="580" y="285" width="9" height="1" fill="#fff"/>
<rect x="576" y="246" width="26" height="15" fill="#000"/>
<rect x="575" y="247" width="28" height="13" fill="#000"/>
<rect x="577" y="248" width="24" height="11" fill="#fff"/>
<text x="589.0" y="257.5" font-size="11" text-anchor="middle" fill="#000" font-weight="normal" letter-spacing="0" stroke="#000" stroke-width="0.15" transform="translate(589.0,257.5) scale(0.9,1) translate(-589.0,-257.5)">CN2</text>
<line x1="577" y1="260" x2="569" y2="266" stroke="#000" stroke-width="2" shape-rendering="geometricPrecision"/>
<rect x="601" y="271" width="26" height="15" fill="#000"/>
<rect x="600" y="272" width="28" height="13" fill="#000"/>
<rect x="602" y="273" width="24" height="11" fill="#fff"/>
<text x="614.0" y="282.5" font-size="11" text-anchor="middle" fill="#000" font-weight="normal" letter-spacing="0" stroke="#000" stroke-width="0.15" transform="translate(614.0,282.5) scale(0.9,1) translate(-614.0,-282.5)">CN1</text>
<rect x="596" y="276" width="6" height="6" fill="#000"/>
<rect x="590" y="277" width="12" height="4" fill="#000"/>
<rect x="588" y="278" width="8" height="2" fill="#000"/>
<rect x="595" y="278" width="7" height="2" fill="#fff"/>
<rect x="325" y="350" width="222" height="53" fill="#000"/>
<rect x="326" y="362" width="220" height="1" fill="#fff"/>
<rect x="326" y="376" width="220" height="1" fill="#fff"/>
<rect x="326" y="389" width="220" height="1" fill="#fff"/>
<rect x="326" y="351" width="5" height="1" fill="#fff"/>
<rect x="326" y="353" width="5" height="4" fill="#fff"/>
<rect x="326" y="358" width="5" height="3" fill="#fff"/>
<rect x="541" y="351" width="5" height="1" fill="#fff"/>
<rect x="541" y="353" width="5" height="4" fill="#fff"/>
<rect x="541" y="358" width="5" height="3" fill="#fff"/>
<rect x="334" y="351" width="10" height="1" fill="#fff"/>
<rect x="334" y="353" width="1" height="5" fill="#fff"/>
<rect x="334" y="353" width="8" height="1" fill="#fff"/>
<rect x="341" y="353" width="1" height="3" fill="#fff"/>
<rect x="338" y="356" width="4" height="1" fill="#fff"/>
<rect x="338" y="356" width="1" height="3" fill="#fff"/>
<rect x="334" y="358" width="5" height="2" fill="#fff"/>
<rect x="343" y="351" width="1" height="10" fill="#fff"/>
<rect x="340" y="359" width="4" height="2" fill="#fff"/>
<rect x="529" y="351" width="10" height="1" fill="#fff"/>
<rect x="538" y="353" width="1" height="5" fill="#fff"/>
<rect x="531" y="353" width="8" height="1" fill="#fff"/>
<rect x="531" y="353" width="1" height="3" fill="#fff"/>
<rect x="531" y="356" width="4" height="1" fill="#fff"/>
<rect x="534" y="356" width="1" height="3" fill="#fff"/>
<rect x="534" y="358" width="5" height="2" fill="#fff"/>
<rect x="529" y="351" width="1" height="10" fill="#fff"/>
<rect x="529" y="359" width="4" height="2" fill="#fff"/>
<rect x="350" y="351" width="1" height="1" fill="#fff"/>
<rect x="350" y="353" width="1" height="3" fill="#fff"/>
<rect x="352" y="351" width="1" height="1" fill="#fff"/>
<rect x="352" y="353" width="1" height="3" fill="#fff"/>
<rect x="354" y="351" width="1" height="1" fill="#fff"/>
<rect x="354" y="353" width="1" height="3" fill="#fff"/>
<rect x="356" y="351" width="1" height="1" fill="#fff"/>
<rect x="356" y="353" width="1" height="3" fill="#fff"/>
<rect x="365" y="351" width="1" height="1" fill="#fff"/>
<rect x="365" y="353" width="1" height="3" fill="#fff"/>
<rect x="367" y="351" width="1" height="1" fill="#fff"/>
<rect x="367" y="353" width="1" height="3" fill="#fff"/>
<rect x="369" y="351" width="1" height="1" fill="#fff"/>
<rect x="369" y="353" width="1" height="3" fill="#fff"/>
<rect x="371" y="351" width="1" height="1" fill="#fff"/>
<rect x="371" y="353" width="1" height="3" fill="#fff"/>
<rect x="373" y="351" width="1" height="1" fill="#fff"/>
<rect x="373" y="353" width="1" height="3" fill="#fff"/>
<rect x="382" y="351" width="1" height="1" fill="#fff"/>
<rect x="382" y="353" width="1" height="3" fill="#fff"/>
<rect x="384" y="351" width="1" height="1" fill="#fff"/>
<rect x="384" y="353" width="1" height="3" fill="#fff"/>
<rect x="386" y="351" width="1" height="1" fill="#fff"/>
<rect x="386" y="353" width="1" height="3" fill="#fff"/>
<rect x="388" y="351" width="1" height="1" fill="#fff"/>
<rect x="388" y="353" width="1" height="3" fill="#fff"/>
<rect x="395" y="351" width="1" height="1" fill="#fff"/>
<rect x="395" y="353" width="1" height="3" fill="#fff"/>
<rect x="397" y="351" width="1" height="1" fill="#fff"/>
<rect x="397" y="353" width="1" height="3" fill="#fff"/>
<rect x="399" y="351" width="1" height="1" fill="#fff"/>
<rect x="399" y="353" width="1" height="3" fill="#fff"/>
<rect x="401" y="351" width="1" height="1" fill="#fff"/>
<rect x="401" y="353" width="1" height="3" fill="#fff"/>
<rect x="403" y="351" width="1" height="1" fill="#fff"/>
<rect x="403" y="353" width="1" height="3" fill="#fff"/>
<rect x="405" y="351" width="1" height="1" fill="#fff"/>
<rect x="405" y="353" width="1" height="3" fill="#fff"/>
<rect x="410" y="351" width="1" height="1" fill="#fff"/>
<rect x="410" y="353" width="1" height="3" fill="#fff"/>
<rect x="412" y="351" width="1" height="1" fill="#fff"/>
<rect x="412" y="353" width="1" height="3" fill="#fff"/>
<rect x="414" y="351" width="1" height="1" fill="#fff"/>
<rect x="414" y="353" width="1" height="3" fill="#fff"/>
<rect x="416" y="351" width="1" height="1" fill="#fff"/>
<rect x="416" y="353" width="1" height="3" fill="#fff"/>
<rect x="418" y="351" width="1" height="1" fill="#fff"/>
<rect x="418" y="353" width="1" height="3" fill="#fff"/>
<rect x="427" y="351" width="1" height="1" fill="#fff"/>
<rect x="427" y="353" width="1" height="3" fill="#fff"/>
<rect x="429" y="351" width="1" height="1" fill="#fff"/>
<rect x="429" y="353" width="1" height="3" fill="#fff"/>
<rect x="446" y="351" width="1" height="1" fill="#fff"/>
<rect x="446" y="353" width="1" height="3" fill="#fff"/>
<rect x="448" y="351" width="1" height="1" fill="#fff"/>
<rect x="448" y="353" width="1" height="3" fill="#fff"/>
<rect x="450" y="351" width="1" height="1" fill="#fff"/>
<rect x="450" y="353" width="1" height="3" fill="#fff"/>
<rect x="452" y="351" width="1" height="1" fill="#fff"/>
<rect x="452" y="353" width="1" height="3" fill="#fff"/>
<rect x="454" y="351" width="1" height="1" fill="#fff"/>
<rect x="454" y="353" width="1" height="3" fill="#fff"/>
<rect x="456" y="351" width="1" height="1" fill="#fff"/>
<rect x="456" y="353" width="1" height="3" fill="#fff"/>
<rect x="463" y="351" width="1" height="1" fill="#fff"/>
<rect x="463" y="353" width="1" height="3" fill="#fff"/>
<rect x="465" y="351" width="1" height="1" fill="#fff"/>
<rect x="465" y="353" width="1" height="3" fill="#fff"/>
<rect x="467" y="351" width="1" height="1" fill="#fff"/>
<rect x="467" y="353" width="1" height="3" fill="#fff"/>
<rect x="469" y="351" width="1" height="1" fill="#fff"/>
<rect x="469" y="353" width="1" height="3" fill="#fff"/>
<rect x="471" y="351" width="1" height="1" fill="#fff"/>
<rect x="471" y="353" width="1" height="3" fill="#fff"/>
<rect x="473" y="351" width="1" height="1" fill="#fff"/>
<rect x="473" y="353" width="1" height="3" fill="#fff"/>
<rect x="478" y="351" width="1" height="1" fill="#fff"/>
<rect x="478" y="353" width="1" height="3" fill="#fff"/>
<rect x="480" y="351" width="1" height="1" fill="#fff"/>
<rect x="480" y="353" width="1" height="3" fill="#fff"/>
<rect x="482" y="351" width="1" height="1" fill="#fff"/>
<rect x="482" y="353" width="1" height="3" fill="#fff"/>
<rect x="484" y="351" width="1" height="1" fill="#fff"/>
<rect x="484" y="353" width="1" height="3" fill="#fff"/>
<rect x="495" y="351" width="1" height="1" fill="#fff"/>
<rect x="495" y="353" width="1" height="3" fill="#fff"/>
<rect x="497" y="351" width="1" height="1" fill="#fff"/>
<rect x="497" y="353" width="1" height="3" fill="#fff"/>
<rect x="499" y="351" width="1" height="1" fill="#fff"/>
<rect x="499" y="353" width="1" height="3" fill="#fff"/>
<rect x="501" y="351" width="1" height="1" fill="#fff"/>
<rect x="501" y="353" width="1" height="3" fill="#fff"/>
<rect x="510" y="351" width="1" height="1" fill="#fff"/>
<rect x="510" y="353" width="1" height="3" fill="#fff"/>
<rect x="512" y="351" width="1" height="1" fill="#fff"/>
<rect x="512" y="353" width="1" height="3" fill="#fff"/>
<rect x="514" y="351" width="1" height="1" fill="#fff"/>
<rect x="514" y="353" width="1" height="3" fill="#fff"/>
<rect x="516" y="351" width="1" height="1" fill="#fff"/>
<rect x="516" y="353" width="1" height="3" fill="#fff"/>
<rect x="521" y="351" width="1" height="1" fill="#fff"/>
<rect x="521" y="353" width="1" height="3" fill="#fff"/>
<rect x="523" y="351" width="1" height="1" fill="#fff"/>
<rect x="523" y="353" width="1" height="3" fill="#fff"/>
<rect x="525" y="351" width="1" height="1" fill="#fff"/>
<rect x="525" y="353" width="1" height="3" fill="#fff"/>
<rect x="432" y="351" width="8" height="4" fill="#fff"/>
<rect x="326" y="364" width="5" height="2" fill="#fff"/>
<rect x="326" y="366" width="5" height="4" fill="#fff"/>
<rect x="326" y="371" width="5" height="4" fill="#fff"/>
<rect x="541" y="364" width="5" height="2" fill="#fff"/>
<rect x="541" y="366" width="5" height="4" fill="#fff"/>
<rect x="541" y="371" width="5" height="4" fill="#fff"/>
<rect x="334" y="364" width="10" height="1" fill="#fff"/>
<rect x="334" y="366" width="1" height="5" fill="#fff"/>
<rect x="334" y="366" width="8" height="1" fill="#fff"/>
<rect x="341" y="366" width="1" height="3" fill="#fff"/>
<rect x="338" y="369" width="4" height="1" fill="#fff"/>
<rect x="338" y="369" width="1" height="3" fill="#fff"/>
<rect x="334" y="371" width="5" height="2" fill="#fff"/>
<rect x="343" y="364" width="1" height="10" fill="#fff"/>
<rect x="340" y="372" width="4" height="2" fill="#fff"/>
<rect x="529" y="364" width="10" height="1" fill="#fff"/>
<rect x="538" y="366" width="1" height="5" fill="#fff"/>
<rect x="531" y="366" width="8" height="1" fill="#fff"/>
<rect x="531" y="366" width="1" height="3" fill="#fff"/>
<rect x="531" y="369" width="4" height="1" fill="#fff"/>
<rect x="534" y="369" width="1" height="3" fill="#fff"/>
<rect x="534" y="371" width="5" height="2" fill="#fff"/>
<rect x="529" y="364" width="1" height="10" fill="#fff"/>
<rect x="529" y="372" width="4" height="2" fill="#fff"/>
<rect x="334" y="364" width="78" height="1" fill="#fff"/>
<rect x="458" y="364" width="80" height="1" fill="#fff"/>
<rect x="344" y="374" width="184" height="1" fill="#fff"/>
<rect x="350" y="366" width="1" height="4" fill="#fff"/>
<rect x="352" y="366" width="1" height="4" fill="#fff"/>
<rect x="354" y="366" width="1" height="4" fill="#fff"/>
<rect x="356" y="366" width="1" height="4" fill="#fff"/>
<rect x="365" y="366" width="1" height="4" fill="#fff"/>
<rect x="367" y="366" width="1" height="4" fill="#fff"/>
<rect x="369" y="366" width="1" height="4" fill="#fff"/>
<rect x="371" y="366" width="1" height="4" fill="#fff"/>
<rect x="373" y="366" width="1" height="4" fill="#fff"/>
<rect x="382" y="366" width="1" height="4" fill="#fff"/>
<rect x="384" y="366" width="1" height="4" fill="#fff"/>
<rect x="386" y="366" width="1" height="4" fill="#fff"/>
<rect x="388" y="366" width="1" height="4" fill="#fff"/>
<rect x="395" y="366" width="1" height="4" fill="#fff"/>
<rect x="397" y="366" width="1" height="4" fill="#fff"/>
<rect x="399" y="366" width="1" height="4" fill="#fff"/>
<rect x="401" y="366" width="1" height="4" fill="#fff"/>
<rect x="403" y="366" width="1" height="4" fill="#fff"/>
<rect x="405" y="366" width="1" height="4" fill="#fff"/>
<rect x="410" y="366" width="1" height="4" fill="#fff"/>
<rect x="412" y="366" width="1" height="4" fill="#fff"/>
<rect x="414" y="366" width="1" height="4" fill="#fff"/>
<rect x="416" y="366" width="1" height="4" fill="#fff"/>
<rect x="418" y="366" width="1" height="4" fill="#fff"/>
<rect x="427" y="366" width="1" height="4" fill="#fff"/>
<rect x="429" y="366" width="1" height="4" fill="#fff"/>
<rect x="446" y="366" width="1" height="4" fill="#fff"/>
<rect x="448" y="366" width="1" height="4" fill="#fff"/>
<rect x="450" y="366" width="1" height="4" fill="#fff"/>
<rect x="452" y="366" width="1" height="4" fill="#fff"/>
<rect x="454" y="366" width="1" height="4" fill="#fff"/>
<rect x="456" y="366" width="1" height="4" fill="#fff"/>
<rect x="463" y="366" width="1" height="4" fill="#fff"/>
<rect x="465" y="366" width="1" height="4" fill="#fff"/>
<rect x="467" y="366" width="1" height="4" fill="#fff"/>
<rect x="469" y="366" width="1" height="4" fill="#fff"/>
<rect x="471" y="366" width="1" height="4" fill="#fff"/>
<rect x="473" y="366" width="1" height="4" fill="#fff"/>
<rect x="478" y="366" width="1" height="4" fill="#fff"/>
<rect x="480" y="366" width="1" height="4" fill="#fff"/>
<rect x="482" y="366" width="1" height="4" fill="#fff"/>
<rect x="484" y="366" width="1" height="4" fill="#fff"/>
<rect x="495" y="366" width="1" height="4" fill="#fff"/>
<rect x="497" y="366" width="1" height="4" fill="#fff"/>
<rect x="499" y="366" width="1" height="4" fill="#fff"/>
<rect x="501" y="366" width="1" height="4" fill="#fff"/>
<rect x="510" y="366" width="1" height="4" fill="#fff"/>
<rect x="512" y="366" width="1" height="4" fill="#fff"/>
<rect x="514" y="366" width="1" height="4" fill="#fff"/>
<rect x="516" y="366" width="1" height="4" fill="#fff"/>
<rect x="521" y="366" width="1" height="4" fill="#fff"/>
<rect x="523" y="366" width="1" height="4" fill="#fff"/>
<rect x="525" y="366" width="1" height="4" fill="#fff"/>
<rect x="432" y="370" width="8" height="4" fill="#fff"/>
<rect x="326" y="378" width="5" height="1" fill="#fff"/>
<rect x="326" y="380" width="5" height="4" fill="#fff"/>
<rect x="326" y="385" width="5" height="3" fill="#fff"/>
<rect x="541" y="378" width="5" height="1" fill="#fff"/>
<rect x="541" y="380" width="5" height="4" fill="#fff"/>
<rect x="541" y="385" width="5" height="3" fill="#fff"/>
<rect x="334" y="378" width="10" height="1" fill="#fff"/>
<rect x="334" y="380" width="1" height="5" fill="#fff"/>
<rect x="334" y="380" width="8" height="1" fill="#fff"/>
<rect x="341" y="380" width="1" height="3" fill="#fff"/>
<rect x="338" y="383" width="4" height="1" fill="#fff"/>
<rect x="338" y="383" width="1" height="3" fill="#fff"/>
<rect x="334" y="385" width="5" height="2" fill="#fff"/>
<rect x="343" y="378" width="1" height="10" fill="#fff"/>
<rect x="340" y="386" width="4" height="2" fill="#fff"/>
<rect x="529" y="378" width="10" height="1" fill="#fff"/>
<rect x="538" y="380" width="1" height="5" fill="#fff"/>
<rect x="531" y="380" width="8" height="1" fill="#fff"/>
<rect x="531" y="380" width="1" height="3" fill="#fff"/>
<rect x="531" y="383" width="4" height="1" fill="#fff"/>
<rect x="534" y="383" width="1" height="3" fill="#fff"/>
<rect x="534" y="385" width="5" height="2" fill="#fff"/>
<rect x="529" y="378" width="1" height="10" fill="#fff"/>
<rect x="529" y="386" width="4" height="2" fill="#fff"/>
<rect x="350" y="378" width="1" height="1" fill="#fff"/>
<rect x="350" y="380" width="1" height="3" fill="#fff"/>
<rect x="352" y="378" width="1" height="1" fill="#fff"/>
<rect x="352" y="380" width="1" height="3" fill="#fff"/>
<rect x="354" y="378" width="1" height="1" fill="#fff"/>
<rect x="354" y="380" width="1" height="3" fill="#fff"/>
<rect x="356" y="378" width="1" height="1" fill="#fff"/>
<rect x="356" y="380" width="1" height="3" fill="#fff"/>
<rect x="365" y="378" width="1" height="1" fill="#fff"/>
<rect x="365" y="380" width="1" height="3" fill="#fff"/>
<rect x="367" y="378" width="1" height="1" fill="#fff"/>
<rect x="367" y="380" width="1" height="3" fill="#fff"/>
<rect x="369" y="378" width="1" height="1" fill="#fff"/>
<rect x="369" y="380" width="1" height="3" fill="#fff"/>
<rect x="371" y="378" width="1" height="1" fill="#fff"/>
<rect x="371" y="380" width="1" height="3" fill="#fff"/>
<rect x="373" y="378" width="1" height="1" fill="#fff"/>
<rect x="373" y="380" width="1" height="3" fill="#fff"/>
<rect x="382" y="378" width="1" height="1" fill="#fff"/>
<rect x="382" y="380" width="1" height="3" fill="#fff"/>
<rect x="384" y="378" width="1" height="1" fill="#fff"/>
<rect x="384" y="380" width="1" height="3" fill="#fff"/>
<rect x="386" y="378" width="1" height="1" fill="#fff"/>
<rect x="386" y="380" width="1" height="3" fill="#fff"/>
<rect x="388" y="378" width="1" height="1" fill="#fff"/>
<rect x="388" y="380" width="1" height="3" fill="#fff"/>
<rect x="395" y="378" width="1" height="1" fill="#fff"/>
<rect x="395" y="380" width="1" height="3" fill="#fff"/>
<rect x="397" y="378" width="1" height="1" fill="#fff"/>
<rect x="397" y="380" width="1" height="3" fill="#fff"/>
<rect x="399" y="378" width="1" height="1" fill="#fff"/>
<rect x="399" y="380" width="1" height="3" fill="#fff"/>
<rect x="401" y="378" width="1" height="1" fill="#fff"/>
<rect x="401" y="380" width="1" height="3" fill="#fff"/>
<rect x="403" y="378" width="1" height="1" fill="#fff"/>
<rect x="403" y="380" width="1" height="3" fill="#fff"/>
<rect x="405" y="378" width="1" height="1" fill="#fff"/>
<rect x="405" y="380" width="1" height="3" fill="#fff"/>
<rect x="410" y="378" width="1" height="1" fill="#fff"/>
<rect x="410" y="380" width="1" height="3" fill="#fff"/>
<rect x="412" y="378" width="1" height="1" fill="#fff"/>
<rect x="412" y="380" width="1" height="3" fill="#fff"/>
<rect x="414" y="378" width="1" height="1" fill="#fff"/>
<rect x="414" y="380" width="1" height="3" fill="#fff"/>
<rect x="416" y="378" width="1" height="1" fill="#fff"/>
<rect x="416" y="380" width="1" height="3" fill="#fff"/>
<rect x="418" y="378" width="1" height="1" fill="#fff"/>
<rect x="418" y="380" width="1" height="3" fill="#fff"/>
<rect x="427" y="378" width="1" height="1" fill="#fff"/>
<rect x="427" y="380" width="1" height="3" fill="#fff"/>
<rect x="429" y="378" width="1" height="1" fill="#fff"/>
<rect x="429" y="380" width="1" height="3" fill="#fff"/>
<rect x="446" y="378" width="1" height="1" fill="#fff"/>
<rect x="446" y="380" width="1" height="3" fill="#fff"/>
<rect x="448" y="378" width="1" height="1" fill="#fff"/>
<rect x="448" y="380" width="1" height="3" fill="#fff"/>
<rect x="450" y="378" width="1" height="1" fill="#fff"/>
<rect x="450" y="380" width="1" height="3" fill="#fff"/>
<rect x="452" y="378" width="1" height="1" fill="#fff"/>
<rect x="452" y="380" width="1" height="3" fill="#fff"/>
<rect x="454" y="378" width="1" height="1" fill="#fff"/>
<rect x="454" y="380" width="1" height="3" fill="#fff"/>
<rect x="456" y="378" width="1" height="1" fill="#fff"/>
<rect x="456" y="380" width="1" height="3" fill="#fff"/>
<rect x="463" y="378" width="1" height="1" fill="#fff"/>
<rect x="463" y="380" width="1" height="3" fill="#fff"/>
<rect x="465" y="378" width="1" height="1" fill="#fff"/>
<rect x="465" y="380" width="1" height="3" fill="#fff"/>
<rect x="467" y="378" width="1" height="1" fill="#fff"/>
<rect x="467" y="380" width="1" height="3" fill="#fff"/>
<rect x="469" y="378" width="1" height="1" fill="#fff"/>
<rect x="469" y="380" width="1" height="3" fill="#fff"/>
<rect x="471" y="378" width="1" height="1" fill="#fff"/>
<rect x="471" y="380" width="1" height="3" fill="#fff"/>
<rect x="473" y="378" width="1" height="1" fill="#fff"/>
<rect x="473" y="380" width="1" height="3" fill="#fff"/>
<rect x="478" y="378" width="1" height="1" fill="#fff"/>
<rect x="478" y="380" width="1" height="3" fill="#fff"/>
<rect x="480" y="378" width="1" height="1" fill="#fff"/>
<rect x="480" y="380" width="1" height="3" fill="#fff"/>
<rect x="482" y="378" width="1" height="1" fill="#fff"/>
<rect x="482" y="380" width="1" height="3" fill="#fff"/>
<rect x="484" y="378" width="1" height="1" fill="#fff"/>
<rect x="484" y="380" width="1" height="3" fill="#fff"/>
<rect x="495" y="378" width="1" height="1" fill="#fff"/>
<rect x="495" y="380" width="1" height="3" fill="#fff"/>
<rect x="497" y="378" width="1" height="1" fill="#fff"/>
<rect x="497" y="380" width="1" height="3" fill="#fff"/>
<rect x="499" y="378" width="1" height="1" fill="#fff"/>
<rect x="499" y="380" width="1" height="3" fill="#fff"/>
<rect x="501" y="378" width="1" height="1" fill="#fff"/>
<rect x="501" y="380" width="1" height="3" fill="#fff"/>
<rect x="510" y="378" width="1" height="1" fill="#fff"/>
<rect x="510" y="380" width="1" height="3" fill="#fff"/>
<rect x="512" y="378" width="1" height="1" fill="#fff"/>
<rect x="512" y="380" width="1" height="3" fill="#fff"/>
<rect x="514" y="378" width="1" height="1" fill="#fff"/>
<rect x="514" y="380" width="1" height="3" fill="#fff"/>
<rect x="516" y="378" width="1" height="1" fill="#fff"/>
<rect x="516" y="380" width="1" height="3" fill="#fff"/>
<rect x="521" y="378" width="1" height="1" fill="#fff"/>
<rect x="521" y="380" width="1" height="3" fill="#fff"/>
<rect x="523" y="378" width="1" height="1" fill="#fff"/>
<rect x="523" y="380" width="1" height="3" fill="#fff"/>
<rect x="525" y="378" width="1" height="1" fill="#fff"/>
<rect x="525" y="380" width="1" height="3" fill="#fff"/>
<rect x="432" y="378" width="8" height="4" fill="#fff"/>
<rect x="326" y="391" width="5" height="2" fill="#fff"/>
<rect x="326" y="393" width="5" height="4" fill="#fff"/>
<rect x="326" y="398" width="5" height="4" fill="#fff"/>
<rect x="541" y="391" width="5" height="2" fill="#fff"/>
<rect x="541" y="393" width="5" height="4" fill="#fff"/>
<rect x="541" y="398" width="5" height="4" fill="#fff"/>
<rect x="334" y="391" width="10" height="1" fill="#fff"/>
<rect x="334" y="393" width="1" height="5" fill="#fff"/>
<rect x="334" y="393" width="8" height="1" fill="#fff"/>
<rect x="341" y="393" width="1" height="3" fill="#fff"/>
<rect x="338" y="396" width="4" height="1" fill="#fff"/>
<rect x="338" y="396" width="1" height="3" fill="#fff"/>
<rect x="334" y="398" width="5" height="2" fill="#fff"/>
<rect x="343" y="391" width="1" height="10" fill="#fff"/>
<rect x="340" y="399" width="4" height="2" fill="#fff"/>
<rect x="529" y="391" width="10" height="1" fill="#fff"/>
<rect x="538" y="393" width="1" height="5" fill="#fff"/>
<rect x="531" y="393" width="8" height="1" fill="#fff"/>
<rect x="531" y="393" width="1" height="3" fill="#fff"/>
<rect x="531" y="396" width="4" height="1" fill="#fff"/>
<rect x="534" y="396" width="1" height="3" fill="#fff"/>
<rect x="534" y="398" width="5" height="2" fill="#fff"/>
<rect x="529" y="391" width="1" height="10" fill="#fff"/>
<rect x="529" y="399" width="4" height="2" fill="#fff"/>
<rect x="334" y="391" width="78" height="1" fill="#fff"/>
<rect x="458" y="391" width="80" height="1" fill="#fff"/>
<rect x="344" y="401" width="184" height="1" fill="#fff"/>
<rect x="350" y="393" width="1" height="4" fill="#fff"/>
<rect x="352" y="393" width="1" height="4" fill="#fff"/>
<rect x="354" y="393" width="1" height="4" fill="#fff"/>
<rect x="356" y="393" width="1" height="4" fill="#fff"/>
<rect x="365" y="393" width="1" height="4" fill="#fff"/>
<rect x="367" y="393" width="1" height="4" fill="#fff"/>
<rect x="369" y="393" width="1" height="4" fill="#fff"/>
<rect x="371" y="393" width="1" height="4" fill="#fff"/>
<rect x="373" y="393" width="1" height="4" fill="#fff"/>
<rect x="382" y="393" width="1" height="4" fill="#fff"/>
<rect x="384" y="393" width="1" height="4" fill="#fff"/>
<rect x="386" y="393" width="1" height="4" fill="#fff"/>
<rect x="388" y="393" width="1" height="4" fill="#fff"/>
<rect x="395" y="393" width="1" height="4" fill="#fff"/>
<rect x="397" y="393" width="1" height="4" fill="#fff"/>
<rect x="399" y="393" width="1" height="4" fill="#fff"/>
<rect x="401" y="393" width="1" height="4" fill="#fff"/>
<rect x="403" y="393" width="1" height="4" fill="#fff"/>
<rect x="405" y="393" width="1" height="4" fill="#fff"/>
<rect x="410" y="393" width="1" height="4" fill="#fff"/>
<rect x="412" y="393" width="1" height="4" fill="#fff"/>
<rect x="414" y="393" width="1" height="4" fill="#fff"/>
<rect x="416" y="393" width="1" height="4" fill="#fff"/>
<rect x="418" y="393" width="1" height="4" fill="#fff"/>
<rect x="427" y="393" width="1" height="4" fill="#fff"/>
<rect x="429" y="393" width="1" height="4" fill="#fff"/>
<rect x="446" y="393" width="1" height="4" fill="#fff"/>
<rect x="448" y="393" width="1" height="4" fill="#fff"/>
<rect x="450" y="393" width="1" height="4" fill="#fff"/>
<rect x="452" y="393" width="1" height="4" fill="#fff"/>
<rect x="454" y="393" width="1" height="4" fill="#fff"/>
<rect x="456" y="393" width="1" height="4" fill="#fff"/>
<rect x="463" y="393" width="1" height="4" fill="#fff"/>
<rect x="465" y="393" width="1" height="4" fill="#fff"/>
<rect x="467" y="393" width="1" height="4" fill="#fff"/>
<rect x="469" y="393" width="1" height="4" fill="#fff"/>
<rect x="471" y="393" width="1" height="4" fill="#fff"/>
<rect x="473" y="393" width="1" height="4" fill="#fff"/>
<rect x="478" y="393" width="1" height="4" fill="#fff"/>
<rect x="480" y="393" width="1" height="4" fill="#fff"/>
<rect x="482" y="393" width="1" height="4" fill="#fff"/>
<rect x="484" y="393" width="1" height="4" fill="#fff"/>
<rect x="495" y="393" width="1" height="4" fill="#fff"/>
<rect x="497" y="393" width="1" height="4" fill="#fff"/>
<rect x="499" y="393" width="1" height="4" fill="#fff"/>
<rect x="501" y="393" width="1" height="4" fill="#fff"/>
<rect x="510" y="393" width="1" height="4" fill="#fff"/>
<rect x="512" y="393" width="1" height="4" fill="#fff"/>
<rect x="514" y="393" width="1" height="4" fill="#fff"/>
<rect x="516" y="393" width="1" height="4" fill="#fff"/>
<rect x="521" y="393" width="1" height="4" fill="#fff"/>
<rect x="523" y="393" width="1" height="4" fill="#fff"/>
<rect x="525" y="393" width="1" height="4" fill="#fff"/>
<rect x="432" y="397" width="8" height="4" fill="#fff"/>
<rect x="413" y="357" width="45" height="11" fill="#fff"/>
<text x="435.5" y="366.5" font-size="11.5" text-anchor="middle" fill="#000" font-weight="normal" letter-spacing="0" stroke="#000" stroke-width="0.15" transform="translate(435.5,366.5) scale(0.98,1) translate(-435.5,-366.5)">BANK 0</text>
<rect x="413" y="384" width="45" height="11" fill="#fff"/>
<text x="435.5" y="393.5" font-size="11.5" text-anchor="middle" fill="#000" font-weight="normal" letter-spacing="0" stroke="#000" stroke-width="0.15" transform="translate(435.5,393.5) scale(0.98,1) translate(-435.5,-393.5)">BANK 1</text>
<rect x="556" y="318" width="20" height="89" fill="#000"/>
<rect x="557" y="319" width="18" height="87" fill="#fff"/>
<rect x="556" y="318" width="1" height="89" fill="#000"/>
<rect x="575" y="318" width="1" height="89" fill="#000"/>
<rect x="559" y="320" width="7" height="7" fill="#000"/>
<rect x="560" y="321" width="5" height="5" fill="#fff"/>
<rect x="570" y="321" width="4" height="5" fill="#000"/>
<rect x="570" y="321" width="1" height="1" fill="#fff"/>
<rect x="573" y="321" width="1" height="1" fill="#fff"/>
<rect x="570" y="325" width="1" height="1" fill="#fff"/>
<rect x="573" y="325" width="1" height="1" fill="#fff"/>
<rect x="566" y="321" width="2" height="5" fill="#000"/>
<rect x="559" y="328" width="7" height="7" fill="#000"/>
<rect x="560" y="329" width="5" height="5" fill="#fff"/>
<rect x="570" y="329" width="4" height="5" fill="#000"/>
<rect x="570" y="329" width="1" height="1" fill="#fff"/>
<rect x="573" y="329" width="1" height="1" fill="#fff"/>
<rect x="570" y="333" width="1" height="1" fill="#fff"/>
<rect x="573" y="333" width="1" height="1" fill="#fff"/>
<rect x="566" y="329" width="2" height="5" fill="#000"/>
<rect x="559" y="335" width="7" height="7" fill="#000"/>
<rect x="560" y="336" width="5" height="5" fill="#fff"/>
<rect x="570" y="336" width="4" height="5" fill="#000"/>
<rect x="570" y="336" width="1" height="1" fill="#fff"/>
<rect x="573" y="336" width="1" height="1" fill="#fff"/>
<rect x="570" y="340" width="1" height="1" fill="#fff"/>
<rect x="573" y="340" width="1" height="1" fill="#fff"/>
<rect x="566" y="336" width="2" height="5" fill="#000"/>
<rect x="559" y="343" width="7" height="7" fill="#000"/>
<rect x="560" y="344" width="5" height="5" fill="#fff"/>
<rect x="570" y="344" width="4" height="5" fill="#000"/>
<rect x="570" y="344" width="1" height="1" fill="#fff"/>
<rect x="573" y="344" width="1" height="1" fill="#fff"/>
<rect x="570" y="348" width="1" height="1" fill="#fff"/>
<rect x="573" y="348" width="1" height="1" fill="#fff"/>
<rect x="566" y="344" width="2" height="5" fill="#000"/>
<rect x="559" y="350" width="7" height="7" fill="#000"/>
<rect x="560" y="351" width="5" height="5" fill="#fff"/>
<rect x="570" y="351" width="4" height="5" fill="#000"/>
<rect x="570" y="351" width="1" height="1" fill="#fff"/>
<rect x="573" y="351" width="1" height="1" fill="#fff"/>
<rect x="570" y="355" width="1" height="1" fill="#fff"/>
<rect x="573" y="355" width="1" height="1" fill="#fff"/>
<rect x="566" y="351" width="2" height="5" fill="#000"/>
<rect x="559" y="358" width="7" height="7" fill="#000"/>
<rect x="560" y="359" width="5" height="5" fill="#fff"/>
<rect x="570" y="359" width="4" height="5" fill="#000"/>
<rect x="570" y="359" width="1" height="1" fill="#fff"/>
<rect x="573" y="359" width="1" height="1" fill="#fff"/>
<rect x="570" y="363" width="1" height="1" fill="#fff"/>
<rect x="573" y="363" width="1" height="1" fill="#fff"/>
<rect x="566" y="359" width="2" height="5" fill="#000"/>
<rect x="559" y="365" width="7" height="7" fill="#000"/>
<rect x="560" y="366" width="5" height="5" fill="#fff"/>
<rect x="570" y="366" width="4" height="5" fill="#000"/>
<rect x="570" y="366" width="1" height="1" fill="#fff"/>
<rect x="573" y="366" width="1" height="1" fill="#fff"/>
<rect x="570" y="370" width="1" height="1" fill="#fff"/>
<rect x="573" y="370" width="1" height="1" fill="#fff"/>
<rect x="566" y="366" width="2" height="5" fill="#000"/>
<rect x="559" y="372" width="7" height="7" fill="#000"/>
<rect x="560" y="373" width="5" height="5" fill="#fff"/>
<rect x="570" y="373" width="4" height="5" fill="#000"/>
<rect x="570" y="373" width="1" height="1" fill="#fff"/>
<rect x="573" y="373" width="1" height="1" fill="#fff"/>
<rect x="570" y="377" width="1" height="1" fill="#fff"/>
<rect x="573" y="377" width="1" height="1" fill="#fff"/>
<rect x="566" y="373" width="2" height="5" fill="#000"/>
<rect x="559" y="380" width="7" height="7" fill="#000"/>
<rect x="560" y="381" width="5" height="5" fill="#fff"/>
<rect x="570" y="381" width="4" height="5" fill="#000"/>
<rect x="570" y="381" width="1" height="1" fill="#fff"/>
<rect x="573" y="381" width="1" height="1" fill="#fff"/>
<rect x="570" y="385" width="1" height="1" fill="#fff"/>
<rect x="573" y="385" width="1" height="1" fill="#fff"/>
<rect x="566" y="381" width="2" height="5" fill="#000"/>
<rect x="559" y="387" width="7" height="7" fill="#000"/>
<rect x="560" y="388" width="5" height="5" fill="#fff"/>
<rect x="570" y="388" width="4" height="5" fill="#000"/>
<rect x="570" y="388" width="1" height="1" fill="#fff"/>
<rect x="573" y="388" width="1" height="1" fill="#fff"/>
<rect x="570" y="392" width="1" height="1" fill="#fff"/>
<rect x="573" y="392" width="1" height="1" fill="#fff"/>
<rect x="566" y="388" width="2" height="5" fill="#000"/>
<rect x="559" y="394" width="7" height="7" fill="#000"/>
<rect x="560" y="395" width="5" height="5" fill="#fff"/>
<rect x="570" y="395" width="4" height="5" fill="#000"/>
<rect x="570" y="395" width="1" height="1" fill="#fff"/>
<rect x="573" y="395" width="1" height="1" fill="#fff"/>
<rect x="570" y="399" width="1" height="1" fill="#fff"/>
<rect x="573" y="399" width="1" height="1" fill="#fff"/>
<rect x="566" y="395" width="2" height="5" fill="#000"/>
<rect x="559" y="402" width="7" height="7" fill="#000"/>
<rect x="560" y="403" width="5" height="5" fill="#fff"/>
<rect x="570" y="403" width="4" height="5" fill="#000"/>
<rect x="570" y="403" width="1" height="1" fill="#fff"/>
<rect x="573" y="403" width="1" height="1" fill="#fff"/>
<rect x="570" y="407" width="1" height="1" fill="#fff"/>
<rect x="573" y="407" width="1" height="1" fill="#fff"/>
<rect x="566" y="403" width="2" height="5" fill="#000"/>
<rect x="557" y="406" width="18" height="1" fill="#000"/>
<rect x="583" y="315" width="10" height="25" fill="#000"/>
<rect x="588" y="317" width="1" height="21" fill="#fff"/>
<rect x="584" y="320" width="8" height="1" fill="#fff"/>
<rect x="584" y="329" width="8" height="1" fill="#fff"/>
<rect x="584" y="334" width="8" height="1" fill="#fff"/>
<rect x="551" y="320" width="19" height="15" fill="#000"/>
<rect x="550" y="321" width="21" height="13" fill="#000"/>
<rect x="552" y="322" width="17" height="11" fill="#fff"/>
<text x="560.5" y="331.5" font-size="11" text-anchor="middle" fill="#000" font-weight="normal" letter-spacing="0" stroke="#000" stroke-width="0.15" transform="translate(560.5,331.5) scale(0.9,1) translate(-560.5,-331.5)">J8</text>
<rect x="569" y="325" width="6" height="6" fill="#000"/>
<rect x="569" y="326" width="12" height="4" fill="#000"/>
<rect x="575" y="327" width="8" height="2" fill="#000"/>
<rect x="569" y="327" width="7" height="2" fill="#fff"/>
<rect x="600" y="314" width="32" height="32" fill="#000"/>
<rect x="601" y="315" width="25" height="14" fill="#fff"/>
<rect x="601" y="339" width="25" height="6" fill="#fff"/>
<rect x="602" y="324" width="30" height="14" fill="#000"/>
<rect x="601" y="325" width="32" height="12" fill="#000"/>
<rect x="603" y="326" width="28" height="10" fill="#fff"/>
<text x="617.0" y="334.5" font-size="11" text-anchor="middle" fill="#000" font-weight="normal" letter-spacing="0" stroke="#000" stroke-width="0.15" transform="translate(617.0,334.5) scale(0.9,1) translate(-617.0,-334.5)">PSM1</text>
<rect x="607" y="357" width="24" height="30" fill="#000"/>
<rect x="627" y="354" width="4" height="36" fill="#000"/>
<rect x="629" y="351" width="2" height="42" fill="#000"/>
<rect x="602" y="364" width="5" height="8" fill="#000"/>
<rect x="603" y="365" width="3" height="6" fill="#fff"/>
<rect x="602" y="373" width="5" height="8" fill="#000"/>
<rect x="603" y="374" width="3" height="6" fill="#fff"/>
<rect x="606" y="371" width="1" height="3" fill="#fff"/>
<rect x="582" y="392" width="25" height="5" fill="#000"/>
<rect x="584" y="393" width="1" height="3" fill="#fff"/>
<rect x="593" y="393" width="1" height="3" fill="#fff"/>
<rect x="598" y="393" width="1" height="3" fill="#fff"/>
<rect x="601" y="393" width="3" height="3" fill="#fff"/>
<rect x="602" y="394" width="1" height="1" fill="#000"/>
<rect x="609" y="403" width="30" height="14" fill="#000"/>
<rect x="608" y="404" width="32" height="12" fill="#000"/>
<rect x="610" y="405" width="28" height="10" fill="#fff"/>
<text x="624.0" y="413.5" font-size="11" text-anchor="middle" fill="#000" font-weight="normal" letter-spacing="0" stroke="#000" stroke-width="0.15" transform="translate(624.0,413.5) scale(0.9,1) translate(-624.0,-413.5)">PSM2</text>
<line x1="602" y1="396" x2="610" y2="404" stroke="#000" stroke-width="2" shape-rendering="geometricPrecision"/>
<rect x="583" y="399" width="11" height="6" fill="#000"/>
<rect x="588" y="400" width="1" height="4" fill="#fff"/>
<rect x="554" y="409" width="26" height="15" fill="#000"/>
<rect x="553" y="410" width="28" height="13" fill="#000"/>
<rect x="555" y="411" width="24" height="11" fill="#fff"/>
<text x="567.0" y="420.5" font-size="11" text-anchor="middle" fill="#000" font-weight="normal" letter-spacing="0" stroke="#000" stroke-width="0.15" transform="translate(567.0,420.5) scale(0.9,1) translate(-567.0,-420.5)">JP1</text>
<line x1="579" y1="410" x2="586" y2="404" stroke="#000" stroke-width="2" shape-rendering="geometricPrecision"/>
</svg>
</body></html>
